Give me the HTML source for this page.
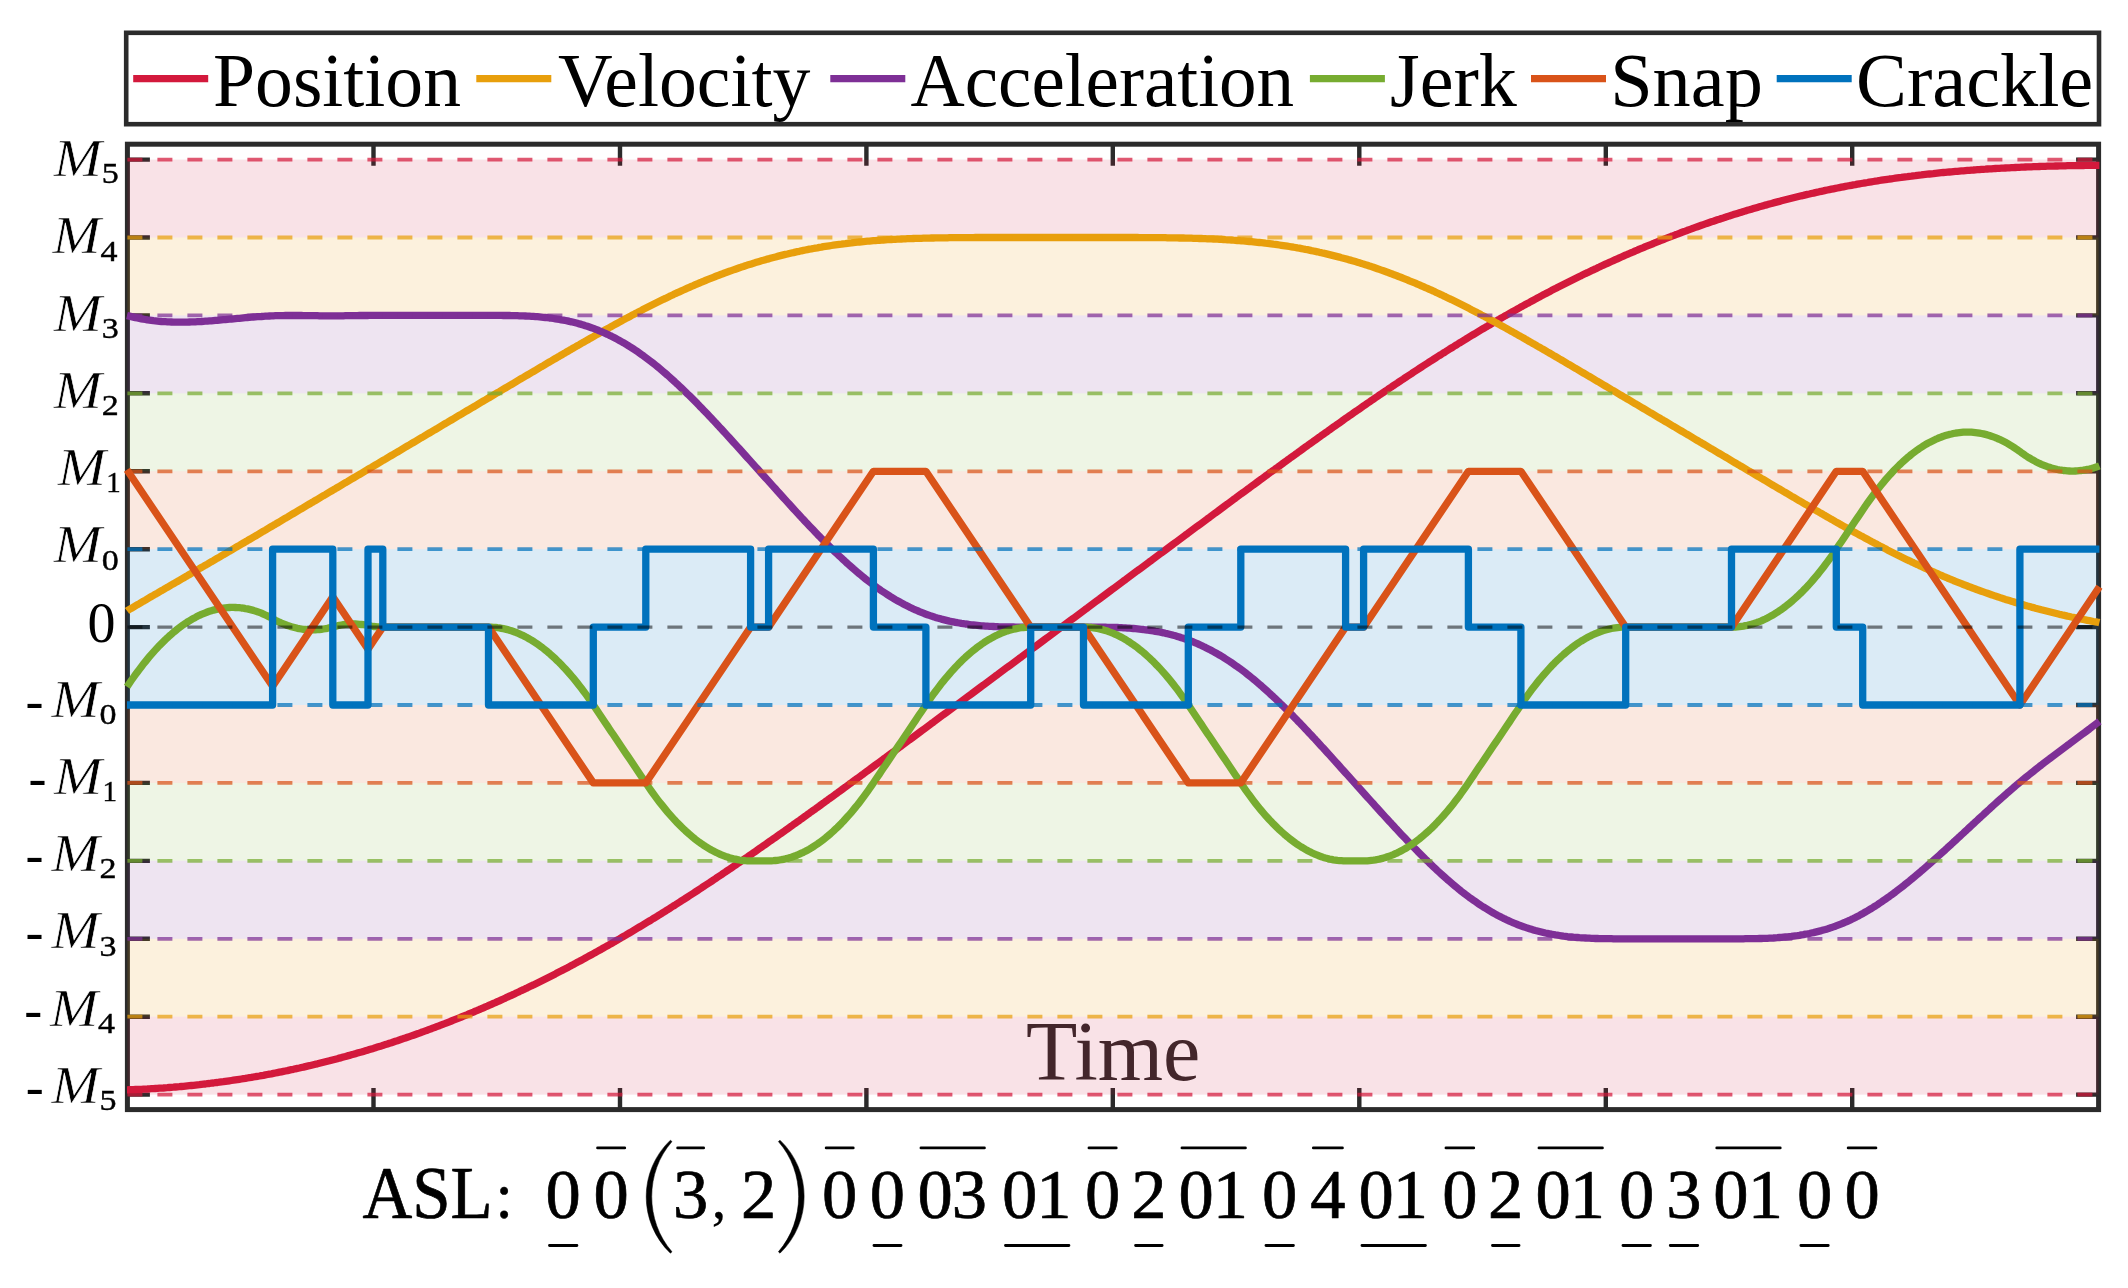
<!DOCTYPE html>
<html lang="en"><head><meta charset="utf-8"><title>Profile</title>
<style>html,body{margin:0;padding:0;background:#fff}svg{display:block;filter:blur(0.55px)}</style>
</head><body>
<svg width="2128" height="1288" viewBox="0 0 2128 1288">
<rect width="2128" height="1288" fill="#fff"/>
<g id="axes" stroke="#2b2b2b" fill="none">
<rect x="127.4" y="144.2" width="1971.2" height="965.4" stroke-width="5"/>
<path d="M373.5 144.2v21.6M373.5 1109.6v-21.6M620.0 144.2v21.6M620.0 1109.6v-21.6M866.4 144.2v21.6M866.4 1109.6v-21.6M1112.8 144.2v21.6M1112.8 1109.6v-21.6M1359.3 144.2v21.6M1359.3 1109.6v-21.6M1605.8 144.2v21.6M1605.8 1109.6v-21.6M1852.2 144.2v21.6M1852.2 1109.6v-21.6M127.4 1094.6h22.5M2098.6 1094.6h-22.5M127.4 1016.7h22.5M2098.6 1016.7h-22.5M127.4 938.8h22.5M2098.6 938.8h-22.5M127.4 860.9h22.5M2098.6 860.9h-22.5M127.4 782.9h22.5M2098.6 782.9h-22.5M127.4 705.0h22.5M2098.6 705.0h-22.5M127.4 627.1h22.5M2098.6 627.1h-22.5M127.4 549.2h22.5M2098.6 549.2h-22.5M127.4 471.3h22.5M2098.6 471.3h-22.5M127.4 393.3h22.5M2098.6 393.3h-22.5M127.4 315.4h22.5M2098.6 315.4h-22.5M127.4 237.5h22.5M2098.6 237.5h-22.5M127.4 159.6h22.5M2098.6 159.6h-22.5" stroke-width="4.4"/>
</g>
<g id="bands" fill-opacity="0.14">
<rect x="127.4" y="159.58" width="1971.2" height="77.92" fill="#D3193C" fill-opacity="0.125"/>
<rect x="127.4" y="1016.70" width="1971.2" height="77.92" fill="#D3193C" fill-opacity="0.125"/>
<rect x="127.4" y="237.50" width="1971.2" height="77.92" fill="#E89F0C" fill-opacity="0.14"/>
<rect x="127.4" y="938.78" width="1971.2" height="77.92" fill="#E89F0C" fill-opacity="0.14"/>
<rect x="127.4" y="315.42" width="1971.2" height="77.92" fill="#7E2F96" fill-opacity="0.13"/>
<rect x="127.4" y="860.86" width="1971.2" height="77.92" fill="#7E2F96" fill-opacity="0.13"/>
<rect x="127.4" y="393.34" width="1971.2" height="77.92" fill="#77AC30" fill-opacity="0.125"/>
<rect x="127.4" y="782.94" width="1971.2" height="77.92" fill="#77AC30" fill-opacity="0.125"/>
<rect x="127.4" y="471.26" width="1971.2" height="77.92" fill="#D95319" fill-opacity="0.135"/>
<rect x="127.4" y="705.02" width="1971.2" height="77.92" fill="#D95319" fill-opacity="0.135"/>
<rect x="127.4" y="549.18" width="1971.2" height="155.84" fill="#0072BD"/>
</g>
<text x="1113.2" y="1079.5" text-anchor="middle" font-family="'Liberation Serif', serif" font-size="84" fill="#43262b" style="will-change:transform">Time</text>
<g id="curves" fill="none" stroke-width="7.3" stroke-linejoin="round" stroke-linecap="butt">
<polyline stroke="#D3193C" points="127.0,1089.8 127.4,1089.8 129.4,1089.7 131.4,1089.7 133.4,1089.6 135.4,1089.5 137.4,1089.4 139.4,1089.3 141.4,1089.3 143.4,1089.2 145.4,1089.1 147.4,1089.0 149.4,1088.8 151.4,1088.7 153.4,1088.6 155.4,1088.5 157.4,1088.4 159.4,1088.2 161.4,1088.1 163.4,1088.0 165.4,1087.8 167.4,1087.7 169.4,1087.5 171.4,1087.3 173.4,1087.2 175.4,1087.0 177.4,1086.8 179.4,1086.7 181.4,1086.5 183.4,1086.3 185.4,1086.1 187.4,1085.9 189.4,1085.7 191.4,1085.5 193.4,1085.3 195.4,1085.1 197.4,1084.9 199.4,1084.7 201.4,1084.4 203.4,1084.2 205.4,1084.0 207.4,1083.7 209.4,1083.5 211.4,1083.2 213.4,1083.0 215.4,1082.7 217.4,1082.5 219.4,1082.2 221.4,1081.9 223.4,1081.7 225.4,1081.4 227.4,1081.1 229.4,1080.8 231.4,1080.5 233.4,1080.2 235.4,1079.9 237.4,1079.6 239.4,1079.3 241.4,1079.0 243.4,1078.7 245.4,1078.4 247.4,1078.0 249.4,1077.7 251.4,1077.4 253.4,1077.0 255.4,1076.7 257.4,1076.3 259.4,1076.0 261.4,1075.6 263.4,1075.3 265.4,1074.9 267.4,1074.5 269.4,1074.1 271.4,1073.8 273.4,1073.4 275.4,1073.0 277.4,1072.6 279.4,1072.2 281.4,1071.8 283.4,1071.4 285.4,1071.0 287.4,1070.6 289.4,1070.1 291.4,1069.7 293.4,1069.3 295.4,1068.8 297.4,1068.4 299.4,1068.0 301.4,1067.5 303.4,1067.1 305.4,1066.6 307.4,1066.1 309.4,1065.7 311.4,1065.2 313.4,1064.7 315.4,1064.2 317.4,1063.8 319.4,1063.3 321.4,1062.8 323.4,1062.3 325.4,1061.8 327.4,1061.3 329.4,1060.8 331.4,1060.2 333.4,1059.7 335.4,1059.2 337.4,1058.7 339.4,1058.1 341.4,1057.6 343.4,1057.0 345.4,1056.5 347.4,1055.9 349.4,1055.4 351.4,1054.8 353.4,1054.3 355.4,1053.7 357.4,1053.1 359.4,1052.5 361.4,1052.0 363.4,1051.4 365.4,1050.8 367.4,1050.2 369.4,1049.6 371.4,1049.0 373.4,1048.4 375.4,1047.7 377.4,1047.1 379.4,1046.5 381.4,1045.9 383.4,1045.2 385.4,1044.6 387.4,1044.0 389.4,1043.3 391.4,1042.7 393.4,1042.0 395.4,1041.3 397.4,1040.7 399.4,1040.0 401.4,1039.3 403.4,1038.6 405.4,1038.0 407.4,1037.3 409.4,1036.6 411.4,1035.9 413.4,1035.2 415.4,1034.5 417.4,1033.8 419.4,1033.1 421.4,1032.3 423.4,1031.6 425.4,1030.9 427.4,1030.2 429.4,1029.4 431.4,1028.7 433.4,1027.9 435.4,1027.2 437.4,1026.4 439.4,1025.7 441.4,1024.9 443.4,1024.1 445.4,1023.4 447.4,1022.6 449.4,1021.8 451.4,1021.0 453.4,1020.2 455.4,1019.4 457.4,1018.6 459.4,1017.8 461.4,1017.0 463.4,1016.2 465.4,1015.4 467.4,1014.6 469.4,1013.7 471.4,1012.9 473.4,1012.1 475.4,1011.2 477.4,1010.4 479.4,1009.5 481.4,1008.7 483.4,1007.8 485.4,1006.9 487.4,1006.1 489.4,1005.2 491.4,1004.3 493.4,1003.4 495.4,1002.6 497.4,1001.7 499.4,1000.8 501.4,999.9 503.4,999.0 505.4,998.1 507.4,997.1 509.4,996.2 511.4,995.3 513.4,994.4 515.4,993.4 517.4,992.5 519.4,991.6 521.4,990.6 523.4,989.7 525.4,988.7 527.4,987.8 529.4,986.8 531.4,985.8 533.4,984.9 535.4,983.9 537.4,982.9 539.4,981.9 541.4,980.9 543.4,979.9 545.4,978.9 547.4,977.9 549.4,976.9 551.4,975.9 553.4,974.9 555.4,973.9 557.4,972.8 559.4,971.8 561.4,970.8 563.4,969.7 565.4,968.7 567.4,967.7 569.4,966.6 571.4,965.5 573.4,964.5 575.4,963.4 577.4,962.3 579.4,961.3 581.4,960.2 583.4,959.1 585.4,958.0 587.4,956.9 589.4,955.8 591.4,954.7 593.4,953.6 595.4,952.5 597.4,951.4 599.4,950.3 601.4,949.2 603.4,948.0 605.4,946.9 607.4,945.8 609.4,944.6 611.4,943.5 613.4,942.3 615.4,941.2 617.4,940.0 619.4,938.9 621.4,937.7 623.4,936.5 625.4,935.4 627.4,934.2 629.4,933.0 631.4,931.8 633.4,930.6 635.4,929.4 637.4,928.2 639.4,927.0 641.4,925.8 643.4,924.6 645.4,923.4 647.4,922.2 649.4,921.0 651.4,919.8 653.4,918.5 655.4,917.3 657.4,916.1 659.4,914.8 661.4,913.6 663.4,912.3 665.4,911.1 667.4,909.8 669.4,908.6 671.4,907.3 673.4,906.0 675.4,904.8 677.4,903.5 679.4,902.2 681.4,900.9 683.4,899.7 685.4,898.4 687.4,897.1 689.4,895.8 691.4,894.5 693.4,893.2 695.4,891.9 697.4,890.6 699.4,889.3 701.4,888.0 703.4,886.6 705.4,885.3 707.4,884.0 709.4,882.7 711.4,881.4 713.4,880.0 715.4,878.7 717.4,877.3 719.4,876.0 721.4,874.7 723.4,873.3 725.4,872.0 727.4,870.6 729.4,869.3 731.4,867.9 733.4,866.5 735.4,865.2 737.4,863.8 739.4,862.5 741.4,861.1 743.4,859.7 745.4,858.3 747.4,857.0 749.4,855.6 751.4,854.2 753.4,852.8 755.4,851.4 757.4,850.0 759.4,848.6 761.4,847.2 763.4,845.8 765.4,844.4 767.4,843.0 769.4,841.6 771.4,840.2 773.4,838.8 775.4,837.4 777.4,836.0 779.4,834.6 781.4,833.2 783.4,831.8 785.4,830.3 787.4,828.9 789.4,827.5 791.4,826.1 793.4,824.6 795.4,823.2 797.4,821.8 799.4,820.4 801.4,818.9 803.4,817.5 805.4,816.1 807.4,814.6 809.4,813.2 811.4,811.7 813.4,810.3 815.4,808.9 817.4,807.4 819.4,806.0 821.4,804.5 823.4,803.1 825.4,801.6 827.4,800.2 829.4,798.7 831.4,797.3 833.4,795.8 835.4,794.3 837.4,792.9 839.4,791.4 841.4,790.0 843.4,788.5 845.4,787.1 847.4,785.6 849.4,784.1 851.4,782.7 853.4,781.2 855.4,779.7 857.4,778.3 859.4,776.8 861.4,775.3 863.4,773.9 865.4,772.4 867.4,770.9 869.4,769.5 871.4,768.0 873.4,766.5 875.4,765.0 877.4,763.6 879.4,762.1 881.4,760.6 883.4,759.1 885.4,757.7 887.4,756.2 889.4,754.7 891.4,753.2 893.4,751.8 895.4,750.3 897.4,748.8 899.4,747.3 901.4,745.9 903.4,744.4 905.4,742.9 907.4,741.4 909.4,739.9 911.4,738.5 913.4,737.0 915.4,735.5 917.4,734.0 919.4,732.5 921.4,731.0 923.4,729.6 925.4,728.1 927.4,726.6 929.4,725.1 931.4,723.6 933.4,722.2 935.4,720.7 937.4,719.2 939.4,717.7 941.4,716.2 943.4,714.7 945.4,713.3 947.4,711.8 949.4,710.3 951.4,708.8 953.4,707.3 955.4,705.8 957.4,704.4 959.4,702.9 961.4,701.4 963.4,699.9 965.4,698.4 967.4,696.9 969.4,695.4 971.4,694.0 973.4,692.5 975.4,691.0 977.4,689.5 979.4,688.0 981.4,686.5 983.4,685.1 985.4,683.6 987.4,682.1 989.4,680.6 991.4,679.1 993.4,677.6 995.4,676.1 997.4,674.7 999.4,673.2 1001.4,671.7 1003.4,670.2 1005.4,668.7 1007.4,667.2 1009.4,665.8 1011.4,664.3 1013.4,662.8 1015.4,661.3 1017.4,659.8 1019.4,658.3 1021.4,656.9 1023.4,655.4 1025.4,653.9 1027.4,652.4 1029.4,650.9 1031.4,649.4 1033.4,647.9 1035.4,646.5 1037.4,645.0 1039.4,643.5 1041.4,642.0 1043.4,640.5 1045.4,639.0 1047.4,637.6 1049.4,636.1 1051.4,634.6 1053.4,633.1 1055.4,631.6 1057.4,630.1 1059.4,628.6 1061.4,627.2 1063.4,625.7 1065.4,624.2 1067.4,622.7 1069.4,621.2 1071.4,619.7 1073.4,618.3 1075.4,616.8 1077.4,615.3 1079.4,613.8 1081.4,612.3 1083.4,610.8 1085.4,609.3 1087.4,607.9 1089.4,606.4 1091.4,604.9 1093.4,603.4 1095.4,601.9 1097.4,600.4 1099.4,599.0 1101.4,597.5 1103.4,596.0 1105.4,594.5 1107.4,593.0 1109.4,591.5 1111.4,590.0 1113.4,588.6 1115.4,587.1 1117.4,585.6 1119.4,584.1 1121.4,582.6 1123.4,581.1 1125.4,579.7 1127.4,578.2 1129.4,576.7 1131.4,575.2 1133.4,573.7 1135.4,572.2 1137.4,570.7 1139.4,569.3 1141.4,567.8 1143.4,566.3 1145.4,564.8 1147.4,563.3 1149.4,561.8 1151.4,560.4 1153.4,558.9 1155.4,557.4 1157.4,555.9 1159.4,554.4 1161.4,552.9 1163.4,551.5 1165.4,550.0 1167.4,548.5 1169.4,547.0 1171.4,545.5 1173.4,544.0 1175.4,542.6 1177.4,541.1 1179.4,539.6 1181.4,538.1 1183.4,536.6 1185.4,535.1 1187.4,533.7 1189.4,532.2 1191.4,530.7 1193.4,529.2 1195.4,527.7 1197.4,526.2 1199.4,524.8 1201.4,523.3 1203.4,521.8 1205.4,520.3 1207.4,518.8 1209.4,517.4 1211.4,515.9 1213.4,514.4 1215.4,512.9 1217.4,511.5 1219.4,510.0 1221.4,508.5 1223.4,507.0 1225.4,505.5 1227.4,504.1 1229.4,502.6 1231.4,501.1 1233.4,499.6 1235.4,498.2 1237.4,496.7 1239.4,495.2 1241.4,493.7 1243.4,492.3 1245.4,490.8 1247.4,489.3 1249.4,487.9 1251.4,486.4 1253.4,484.9 1255.4,483.5 1257.4,482.0 1259.4,480.5 1261.4,479.1 1263.4,477.6 1265.4,476.1 1267.4,474.7 1269.4,473.2 1271.4,471.7 1273.4,470.3 1275.4,468.8 1277.4,467.4 1279.4,465.9 1281.4,464.5 1283.4,463.0 1285.4,461.6 1287.4,460.1 1289.4,458.7 1291.4,457.2 1293.4,455.8 1295.4,454.3 1297.4,452.9 1299.4,451.4 1301.4,450.0 1303.4,448.5 1305.4,447.1 1307.4,445.7 1309.4,444.2 1311.4,442.8 1313.4,441.3 1315.4,439.9 1317.4,438.5 1319.4,437.1 1321.4,435.6 1323.4,434.2 1325.4,432.8 1327.4,431.4 1329.4,429.9 1331.4,428.5 1333.4,427.1 1335.4,425.7 1337.4,424.3 1339.4,422.9 1341.4,421.5 1343.4,420.0 1345.4,418.6 1347.4,417.2 1349.4,415.8 1351.4,414.4 1353.4,413.0 1355.4,411.6 1357.4,410.3 1359.4,408.9 1361.4,407.5 1363.4,406.1 1365.4,404.7 1367.4,403.3 1369.4,402.0 1371.4,400.6 1373.4,399.2 1375.4,397.8 1377.4,396.5 1379.4,395.1 1381.4,393.7 1383.4,392.4 1385.4,391.0 1387.4,389.7 1389.4,388.3 1391.4,387.0 1393.4,385.6 1395.4,384.3 1397.4,383.0 1399.4,381.6 1401.4,380.3 1403.4,379.0 1405.4,377.6 1407.4,376.3 1409.4,375.0 1411.4,373.7 1413.4,372.3 1415.4,371.0 1417.4,369.7 1419.4,368.4 1421.4,367.1 1423.4,365.8 1425.4,364.5 1427.4,363.2 1429.4,361.9 1431.4,360.7 1433.4,359.4 1435.4,358.1 1437.4,356.8 1439.4,355.5 1441.4,354.3 1443.4,353.0 1445.4,351.8 1447.4,350.5 1449.4,349.2 1451.4,348.0 1453.4,346.8 1455.4,345.5 1457.4,344.3 1459.4,343.0 1461.4,341.8 1463.4,340.6 1465.4,339.4 1467.4,338.1 1469.4,336.9 1471.4,335.7 1473.4,334.5 1475.4,333.3 1477.4,332.1 1479.4,330.9 1481.4,329.7 1483.4,328.5 1485.4,327.3 1487.4,326.2 1489.4,325.0 1491.4,323.8 1493.4,322.6 1495.4,321.5 1497.4,320.3 1499.4,319.2 1501.4,318.0 1503.4,316.9 1505.4,315.7 1507.4,314.6 1509.4,313.5 1511.4,312.3 1513.4,311.2 1515.4,310.1 1517.4,309.0 1519.4,307.9 1521.4,306.7 1523.4,305.6 1525.4,304.5 1527.4,303.4 1529.4,302.4 1531.4,301.3 1533.4,300.2 1535.4,299.1 1537.4,298.0 1539.4,297.0 1541.4,295.9 1543.4,294.8 1545.4,293.8 1547.4,292.7 1549.4,291.7 1551.4,290.6 1553.4,289.6 1555.4,288.6 1557.4,287.5 1559.4,286.5 1561.4,285.5 1563.4,284.5 1565.4,283.5 1567.4,282.5 1569.4,281.5 1571.4,280.5 1573.4,279.5 1575.4,278.5 1577.4,277.5 1579.4,276.5 1581.4,275.6 1583.4,274.6 1585.4,273.6 1587.4,272.7 1589.4,271.7 1591.4,270.7 1593.4,269.8 1595.4,268.9 1597.4,267.9 1599.4,267.0 1601.4,266.0 1603.4,265.1 1605.4,264.2 1607.4,263.3 1609.4,262.4 1611.4,261.5 1613.4,260.6 1615.4,259.7 1617.4,258.8 1619.4,257.9 1621.4,257.0 1623.4,256.1 1625.4,255.2 1627.4,254.4 1629.4,253.5 1631.4,252.6 1633.4,251.8 1635.4,250.9 1637.4,250.1 1639.4,249.2 1641.4,248.4 1643.4,247.6 1645.4,246.7 1647.4,245.9 1649.4,245.1 1651.4,244.3 1653.4,243.5 1655.4,242.6 1657.4,241.8 1659.4,241.0 1661.4,240.2 1663.4,239.5 1665.4,238.7 1667.4,237.9 1669.4,237.1 1671.4,236.3 1673.4,235.6 1675.4,234.8 1677.4,234.1 1679.4,233.3 1681.4,232.5 1683.4,231.8 1685.4,231.1 1687.4,230.3 1689.4,229.6 1691.4,228.9 1693.4,228.1 1695.4,227.4 1697.4,226.7 1699.4,226.0 1701.4,225.3 1703.4,224.6 1705.4,223.9 1707.4,223.2 1709.4,222.5 1711.4,221.8 1713.4,221.2 1715.4,220.5 1717.4,219.8 1719.4,219.2 1721.4,218.5 1723.4,217.9 1725.4,217.2 1727.4,216.6 1729.4,215.9 1731.4,215.3 1733.4,214.6 1735.4,214.0 1737.4,213.4 1739.4,212.8 1741.4,212.2 1743.4,211.6 1745.4,210.9 1747.4,210.3 1749.4,209.8 1751.4,209.2 1753.4,208.6 1755.4,208.0 1757.4,207.4 1759.4,206.8 1761.4,206.3 1763.4,205.7 1765.4,205.1 1767.4,204.6 1769.4,204.0 1771.4,203.5 1773.4,202.9 1775.4,202.4 1777.4,201.9 1779.4,201.4 1781.4,200.8 1783.4,200.3 1785.4,199.8 1787.4,199.3 1789.4,198.8 1791.4,198.3 1793.4,197.8 1795.4,197.3 1797.4,196.8 1799.4,196.3 1801.4,195.8 1803.4,195.4 1805.4,194.9 1807.4,194.4 1809.4,194.0 1811.4,193.5 1813.4,193.1 1815.4,192.6 1817.4,192.2 1819.4,191.7 1821.4,191.3 1823.4,190.9 1825.4,190.4 1827.4,190.0 1829.4,189.6 1831.4,189.2 1833.4,188.8 1835.4,188.4 1837.4,188.0 1839.4,187.6 1841.4,187.2 1843.4,186.8 1845.4,186.4 1847.4,186.0 1849.4,185.7 1851.4,185.3 1853.4,184.9 1855.4,184.6 1857.4,184.2 1859.4,183.8 1861.4,183.5 1863.4,183.2 1865.4,182.8 1867.4,182.5 1869.4,182.1 1871.4,181.8 1873.4,181.5 1875.4,181.2 1877.4,180.9 1879.4,180.5 1881.4,180.2 1883.4,179.9 1885.4,179.6 1887.4,179.3 1889.4,179.0 1891.4,178.8 1893.4,178.5 1895.4,178.2 1897.4,177.9 1899.4,177.6 1901.4,177.4 1903.4,177.1 1905.4,176.8 1907.4,176.6 1909.4,176.3 1911.4,176.1 1913.4,175.8 1915.4,175.6 1917.4,175.3 1919.4,175.1 1921.4,174.9 1923.4,174.6 1925.4,174.4 1927.4,174.2 1929.4,174.0 1931.4,173.8 1933.4,173.6 1935.4,173.3 1937.4,173.1 1939.4,172.9 1941.4,172.7 1943.4,172.5 1945.4,172.4 1947.4,172.2 1949.4,172.0 1951.4,171.8 1953.4,171.6 1955.4,171.4 1957.4,171.3 1959.4,171.1 1961.4,170.9 1963.4,170.8 1965.4,170.6 1967.4,170.4 1969.4,170.3 1971.4,170.1 1973.4,170.0 1975.4,169.8 1977.4,169.7 1979.4,169.6 1981.4,169.4 1983.4,169.3 1985.4,169.2 1987.4,169.0 1989.4,168.9 1991.4,168.8 1993.4,168.6 1995.4,168.5 1997.4,168.4 1999.4,168.3 2001.4,168.2 2003.4,168.1 2005.4,168.0 2007.4,167.9 2009.4,167.8 2011.4,167.7 2013.4,167.6 2015.4,167.5 2017.4,167.4 2019.4,167.3 2021.4,167.2 2023.4,167.1 2025.4,167.0 2027.4,166.9 2029.4,166.9 2031.4,166.8 2033.4,166.7 2035.4,166.6 2037.4,166.6 2039.4,166.5 2041.4,166.4 2043.4,166.4 2045.4,166.3 2047.4,166.2 2049.4,166.2 2051.4,166.1 2053.4,166.1 2055.4,166.0 2057.4,166.0 2059.4,165.9 2061.4,165.9 2063.4,165.8 2065.4,165.8 2067.4,165.7 2069.4,165.7 2071.4,165.7 2073.4,165.6 2075.4,165.6 2077.4,165.5 2079.4,165.5 2081.4,165.5 2083.4,165.5 2085.4,165.4 2087.4,165.4 2089.4,165.4 2091.4,165.4 2093.4,165.3 2095.4,165.3 2097.4,165.3 2098.6,165.3 2099.4,165.3"/>
<polyline stroke="#E89F0C" points="127.0,610.9 127.4,610.6 129.4,609.4 131.4,608.3 133.4,607.1 135.4,605.9 137.4,604.7 139.4,603.6 141.4,602.4 143.4,601.2 145.4,600.1 147.4,598.9 149.4,597.7 151.4,596.5 153.4,595.4 155.4,594.2 157.4,593.1 159.4,591.9 161.4,590.7 163.4,589.6 165.4,588.4 167.4,587.3 169.4,586.1 171.4,584.9 173.4,583.8 175.4,582.6 177.4,581.5 179.4,580.3 181.4,579.1 183.4,578.0 185.4,576.8 187.4,575.7 189.4,574.5 191.4,573.3 193.4,572.2 195.4,571.0 197.4,569.9 199.4,568.7 201.4,567.5 203.4,566.4 205.4,565.2 207.4,564.1 209.4,562.9 211.4,561.7 213.4,560.6 215.4,559.4 217.4,558.2 219.4,557.1 221.4,555.9 223.4,554.7 225.4,553.6 227.4,552.4 229.4,551.2 231.4,550.1 233.4,548.9 235.4,547.7 237.4,546.5 239.4,545.4 241.4,544.2 243.4,543.0 245.4,541.8 247.4,540.7 249.4,539.5 251.4,538.3 253.4,537.1 255.4,536.0 257.4,534.8 259.4,533.6 261.4,532.4 263.4,531.2 265.4,530.1 267.4,528.9 269.4,527.7 271.4,526.5 273.4,525.3 275.4,524.2 277.4,523.0 279.4,521.8 281.4,520.6 283.4,519.4 285.4,518.2 287.4,517.1 289.4,515.9 291.4,514.7 293.4,513.5 295.4,512.3 297.4,511.1 299.4,509.9 301.4,508.8 303.4,507.6 305.4,506.4 307.4,505.2 309.4,504.0 311.4,502.8 313.4,501.7 315.4,500.5 317.4,499.3 319.4,498.1 321.4,496.9 323.4,495.7 325.4,494.6 327.4,493.4 329.4,492.2 331.4,491.0 333.4,489.8 335.4,488.7 337.4,487.5 339.4,486.3 341.4,485.1 343.4,483.9 345.4,482.7 347.4,481.6 349.4,480.4 351.4,479.2 353.4,478.0 355.4,476.8 357.4,475.6 359.4,474.5 361.4,473.3 363.4,472.1 365.4,470.9 367.4,469.7 369.4,468.5 371.4,467.4 373.4,466.2 375.4,465.0 377.4,463.8 379.4,462.6 381.4,461.4 383.4,460.2 385.4,459.1 387.4,457.9 389.4,456.7 391.4,455.5 393.4,454.3 395.4,453.1 397.4,452.0 399.4,450.8 401.4,449.6 403.4,448.4 405.4,447.2 407.4,446.0 409.4,444.9 411.4,443.7 413.4,442.5 415.4,441.3 417.4,440.1 419.4,438.9 421.4,437.7 423.4,436.6 425.4,435.4 427.4,434.2 429.4,433.0 431.4,431.8 433.4,430.6 435.4,429.5 437.4,428.3 439.4,427.1 441.4,425.9 443.4,424.7 445.4,423.5 447.4,422.4 449.4,421.2 451.4,420.0 453.4,418.8 455.4,417.6 457.4,416.4 459.4,415.2 461.4,414.1 463.4,412.9 465.4,411.7 467.4,410.5 469.4,409.3 471.4,408.1 473.4,407.0 475.4,405.8 477.4,404.6 479.4,403.4 481.4,402.2 483.4,401.0 485.4,399.9 487.4,398.7 489.4,397.5 491.4,396.3 493.4,395.1 495.4,393.9 497.4,392.7 499.4,391.6 501.4,390.4 503.4,389.2 505.4,388.0 507.4,386.8 509.4,385.6 511.4,384.5 513.4,383.3 515.4,382.1 517.4,380.9 519.4,379.7 521.4,378.5 523.4,377.4 525.4,376.2 527.4,375.0 529.4,373.8 531.4,372.6 533.4,371.5 535.4,370.3 537.4,369.1 539.4,367.9 541.4,366.7 543.4,365.6 545.4,364.4 547.4,363.2 549.4,362.0 551.4,360.9 553.4,359.7 555.4,358.5 557.4,357.3 559.4,356.2 561.4,355.0 563.4,353.8 565.4,352.7 567.4,351.5 569.4,350.3 571.4,349.2 573.4,348.0 575.4,346.9 577.4,345.7 579.4,344.6 581.4,343.4 583.4,342.3 585.4,341.1 587.4,340.0 589.4,338.8 591.4,337.7 593.4,336.6 595.4,335.4 597.4,334.3 599.4,333.2 601.4,332.0 603.4,330.9 605.4,329.8 607.4,328.7 609.4,327.6 611.4,326.5 613.4,325.4 615.4,324.3 617.4,323.2 619.4,322.1 621.4,321.0 623.4,319.9 625.4,318.8 627.4,317.8 629.4,316.7 631.4,315.6 633.4,314.6 635.4,313.5 637.4,312.5 639.4,311.4 641.4,310.4 643.4,309.3 645.4,308.3 647.4,307.3 649.4,306.3 651.4,305.3 653.4,304.3 655.4,303.3 657.4,302.3 659.4,301.3 661.4,300.3 663.4,299.3 665.4,298.4 667.4,297.4 669.4,296.4 671.4,295.5 673.4,294.6 675.4,293.6 677.4,292.7 679.4,291.8 681.4,290.9 683.4,290.0 685.4,289.1 687.4,288.2 689.4,287.3 691.4,286.4 693.4,285.6 695.4,284.7 697.4,283.8 699.4,283.0 701.4,282.2 703.4,281.3 705.4,280.5 707.4,279.7 709.4,278.9 711.4,278.1 713.4,277.3 715.4,276.5 717.4,275.7 719.4,275.0 721.4,274.2 723.4,273.5 725.4,272.7 727.4,272.0 729.4,271.3 731.4,270.6 733.4,269.9 735.4,269.2 737.4,268.5 739.4,267.8 741.4,267.1 743.4,266.5 745.4,265.8 747.4,265.1 749.4,264.5 751.4,263.9 753.4,263.3 755.4,262.6 757.4,262.0 759.4,261.4 761.4,260.8 763.4,260.3 765.4,259.7 767.4,259.1 769.4,258.6 771.4,258.0 773.4,257.5 775.4,257.0 777.4,256.4 779.4,255.9 781.4,255.4 783.4,254.9 785.4,254.4 787.4,254.0 789.4,253.5 791.4,253.0 793.4,252.6 795.4,252.1 797.4,251.7 799.4,251.3 801.4,250.8 803.4,250.4 805.4,250.0 807.4,249.6 809.4,249.2 811.4,248.9 813.4,248.5 815.4,248.1 817.4,247.8 819.4,247.4 821.4,247.1 823.4,246.7 825.4,246.4 827.4,246.1 829.4,245.8 831.4,245.5 833.4,245.2 835.4,244.9 837.4,244.6 839.4,244.3 841.4,244.1 843.4,243.8 845.4,243.6 847.4,243.3 849.4,243.1 851.4,242.9 853.4,242.6 855.4,242.4 857.4,242.2 859.4,242.0 861.4,241.8 863.4,241.6 865.4,241.4 867.4,241.2 869.4,241.1 871.4,240.9 873.4,240.7 875.4,240.6 877.4,240.4 879.4,240.3 881.4,240.1 883.4,240.0 885.4,239.9 887.4,239.7 889.4,239.6 891.4,239.5 893.4,239.4 895.4,239.3 897.4,239.2 899.4,239.1 901.4,239.0 903.4,238.9 905.4,238.8 907.4,238.7 909.4,238.7 911.4,238.6 913.4,238.5 915.4,238.4 917.4,238.4 919.4,238.3 921.4,238.3 923.4,238.2 925.4,238.2 927.4,238.1 929.4,238.1 931.4,238.0 933.4,238.0 935.4,237.9 937.4,237.9 939.4,237.9 941.4,237.8 943.4,237.8 945.4,237.8 947.4,237.8 949.4,237.7 951.4,237.7 953.4,237.7 955.4,237.7 957.4,237.7 959.4,237.6 961.4,237.6 963.4,237.6 965.4,237.6 967.4,237.6 969.4,237.6 971.4,237.6 973.4,237.6 975.4,237.5 977.4,237.5 979.4,237.5 981.4,237.5 983.4,237.5 985.4,237.5 987.4,237.5 989.4,237.5 991.4,237.5 993.4,237.5 995.4,237.5 997.4,237.5 999.4,237.5 1001.4,237.5 1003.4,237.5 1005.4,237.5 1007.4,237.5 1009.4,237.5 1011.4,237.5 1013.4,237.5 1015.4,237.5 1017.4,237.5 1019.4,237.5 1021.4,237.5 1023.4,237.5 1025.4,237.5 1027.4,237.5 1029.4,237.5 1031.4,237.5 1033.4,237.5 1035.4,237.5 1037.4,237.5 1039.4,237.5 1041.4,237.5 1043.4,237.5 1045.4,237.5 1047.4,237.5 1049.4,237.5 1051.4,237.5 1053.4,237.5 1055.4,237.5 1057.4,237.5 1059.4,237.5 1061.4,237.5 1063.4,237.5 1065.4,237.5 1067.4,237.5 1069.4,237.5 1071.4,237.5 1073.4,237.5 1075.4,237.5 1077.4,237.5 1079.4,237.5 1081.4,237.5 1083.4,237.5 1085.4,237.5 1087.4,237.5 1089.4,237.5 1091.4,237.5 1093.4,237.5 1095.4,237.5 1097.4,237.5 1099.4,237.5 1101.4,237.5 1103.4,237.5 1105.4,237.5 1107.4,237.5 1109.4,237.5 1111.4,237.5 1113.4,237.5 1115.4,237.5 1117.4,237.5 1119.4,237.5 1121.4,237.5 1123.4,237.5 1125.4,237.5 1127.4,237.5 1129.4,237.5 1131.4,237.5 1133.4,237.5 1135.4,237.5 1137.4,237.5 1139.4,237.6 1141.4,237.6 1143.4,237.6 1145.4,237.6 1147.4,237.6 1149.4,237.6 1151.4,237.6 1153.4,237.6 1155.4,237.6 1157.4,237.7 1159.4,237.7 1161.4,237.7 1163.4,237.7 1165.4,237.7 1167.4,237.8 1169.4,237.8 1171.4,237.8 1173.4,237.8 1175.4,237.9 1177.4,237.9 1179.4,238.0 1181.4,238.0 1183.4,238.0 1185.4,238.1 1187.4,238.1 1189.4,238.2 1191.4,238.2 1193.4,238.3 1195.4,238.3 1197.4,238.4 1199.4,238.5 1201.4,238.5 1203.4,238.6 1205.4,238.7 1207.4,238.8 1209.4,238.8 1211.4,238.9 1213.4,239.0 1215.4,239.1 1217.4,239.2 1219.4,239.3 1221.4,239.4 1223.4,239.5 1225.4,239.7 1227.4,239.8 1229.4,239.9 1231.4,240.0 1233.4,240.2 1235.4,240.3 1237.4,240.5 1239.4,240.6 1241.4,240.8 1243.4,240.9 1245.4,241.1 1247.4,241.3 1249.4,241.5 1251.4,241.7 1253.4,241.9 1255.4,242.1 1257.4,242.3 1259.4,242.5 1261.4,242.7 1263.4,242.9 1265.4,243.2 1267.4,243.4 1269.4,243.6 1271.4,243.9 1273.4,244.2 1275.4,244.4 1277.4,244.7 1279.4,245.0 1281.4,245.3 1283.4,245.6 1285.4,245.9 1287.4,246.2 1289.4,246.5 1291.4,246.8 1293.4,247.2 1295.4,247.5 1297.4,247.9 1299.4,248.2 1301.4,248.6 1303.4,249.0 1305.4,249.4 1307.4,249.7 1309.4,250.1 1311.4,250.6 1313.4,251.0 1315.4,251.4 1317.4,251.8 1319.4,252.3 1321.4,252.7 1323.4,253.2 1325.4,253.6 1327.4,254.1 1329.4,254.6 1331.4,255.1 1333.4,255.6 1335.4,256.1 1337.4,256.6 1339.4,257.1 1341.4,257.7 1343.4,258.2 1345.4,258.7 1347.4,259.3 1349.4,259.9 1351.4,260.4 1353.4,261.0 1355.4,261.6 1357.4,262.2 1359.4,262.8 1361.4,263.4 1363.4,264.1 1365.4,264.7 1367.4,265.3 1369.4,266.0 1371.4,266.6 1373.4,267.3 1375.4,268.0 1377.4,268.7 1379.4,269.4 1381.4,270.1 1383.4,270.8 1385.4,271.5 1387.4,272.2 1389.4,273.0 1391.4,273.7 1393.4,274.5 1395.4,275.2 1397.4,276.0 1399.4,276.8 1401.4,277.5 1403.4,278.3 1405.4,279.1 1407.4,279.9 1409.4,280.8 1411.4,281.6 1413.4,282.4 1415.4,283.2 1417.4,284.1 1419.4,284.9 1421.4,285.8 1423.4,286.7 1425.4,287.6 1427.4,288.4 1429.4,289.3 1431.4,290.2 1433.4,291.1 1435.4,292.1 1437.4,293.0 1439.4,293.9 1441.4,294.8 1443.4,295.8 1445.4,296.7 1447.4,297.7 1449.4,298.7 1451.4,299.6 1453.4,300.6 1455.4,301.6 1457.4,302.6 1459.4,303.6 1461.4,304.6 1463.4,305.6 1465.4,306.6 1467.4,307.6 1469.4,308.6 1471.4,309.7 1473.4,310.7 1475.4,311.7 1477.4,312.8 1479.4,313.8 1481.4,314.9 1483.4,315.9 1485.4,317.0 1487.4,318.1 1489.4,319.2 1491.4,320.2 1493.4,321.3 1495.4,322.4 1497.4,323.5 1499.4,324.6 1501.4,325.7 1503.4,326.8 1505.4,327.9 1507.4,329.0 1509.4,330.1 1511.4,331.3 1513.4,332.4 1515.4,333.5 1517.4,334.6 1519.4,335.8 1521.4,336.9 1523.4,338.0 1525.4,339.2 1527.4,340.3 1529.4,341.5 1531.4,342.6 1533.4,343.8 1535.4,344.9 1537.4,346.1 1539.4,347.2 1541.4,348.4 1543.4,349.5 1545.4,350.7 1547.4,351.9 1549.4,353.0 1551.4,354.2 1553.4,355.4 1555.4,356.5 1557.4,357.7 1559.4,358.9 1561.4,360.0 1563.4,361.2 1565.4,362.4 1567.4,363.6 1569.4,364.7 1571.4,365.9 1573.4,367.1 1575.4,368.3 1577.4,369.4 1579.4,370.6 1581.4,371.8 1583.4,373.0 1585.4,374.2 1587.4,375.4 1589.4,376.5 1591.4,377.7 1593.4,378.9 1595.4,380.1 1597.4,381.3 1599.4,382.4 1601.4,383.6 1603.4,384.8 1605.4,386.0 1607.4,387.2 1609.4,388.4 1611.4,389.6 1613.4,390.7 1615.4,391.9 1617.4,393.1 1619.4,394.3 1621.4,395.5 1623.4,396.7 1625.4,397.8 1627.4,399.0 1629.4,400.2 1631.4,401.4 1633.4,402.6 1635.4,403.8 1637.4,404.9 1639.4,406.1 1641.4,407.3 1643.4,408.5 1645.4,409.7 1647.4,410.9 1649.4,412.1 1651.4,413.2 1653.4,414.4 1655.4,415.6 1657.4,416.8 1659.4,418.0 1661.4,419.2 1663.4,420.3 1665.4,421.5 1667.4,422.7 1669.4,423.9 1671.4,425.1 1673.4,426.3 1675.4,427.4 1677.4,428.6 1679.4,429.8 1681.4,431.0 1683.4,432.2 1685.4,433.4 1687.4,434.5 1689.4,435.7 1691.4,436.9 1693.4,438.1 1695.4,439.3 1697.4,440.5 1699.4,441.7 1701.4,442.8 1703.4,444.0 1705.4,445.2 1707.4,446.4 1709.4,447.6 1711.4,448.8 1713.4,449.9 1715.4,451.1 1717.4,452.3 1719.4,453.5 1721.4,454.7 1723.4,455.9 1725.4,457.0 1727.4,458.2 1729.4,459.4 1731.4,460.6 1733.4,461.8 1735.4,463.0 1737.4,464.2 1739.4,465.3 1741.4,466.5 1743.4,467.7 1745.4,468.9 1747.4,470.1 1749.4,471.3 1751.4,472.4 1753.4,473.6 1755.4,474.8 1757.4,476.0 1759.4,477.2 1761.4,478.4 1763.4,479.5 1765.4,480.7 1767.4,481.9 1769.4,483.1 1771.4,484.3 1773.4,485.5 1775.4,486.6 1777.4,487.8 1779.4,489.0 1781.4,490.2 1783.4,491.4 1785.4,492.5 1787.4,493.7 1789.4,494.9 1791.4,496.1 1793.4,497.2 1795.4,498.4 1797.4,499.6 1799.4,500.8 1801.4,501.9 1803.4,503.1 1805.4,504.3 1807.4,505.4 1809.4,506.6 1811.4,507.8 1813.4,508.9 1815.4,510.1 1817.4,511.2 1819.4,512.4 1821.4,513.5 1823.4,514.7 1825.4,515.8 1827.4,517.0 1829.4,518.1 1831.4,519.3 1833.4,520.4 1835.4,521.6 1837.4,522.7 1839.4,523.8 1841.4,525.0 1843.4,526.1 1845.4,527.2 1847.4,528.3 1849.4,529.4 1851.4,530.5 1853.4,531.7 1855.4,532.8 1857.4,533.9 1859.4,535.0 1861.4,536.1 1863.4,537.1 1865.4,538.2 1867.4,539.3 1869.4,540.4 1871.4,541.5 1873.4,542.5 1875.4,543.6 1877.4,544.6 1879.4,545.7 1881.4,546.7 1883.4,547.8 1885.4,548.8 1887.4,549.9 1889.4,550.9 1891.4,551.9 1893.4,552.9 1895.4,553.9 1897.4,554.9 1899.4,555.9 1901.4,556.9 1903.4,557.9 1905.4,558.9 1907.4,559.9 1909.4,560.8 1911.4,561.8 1913.4,562.7 1915.4,563.7 1917.4,564.6 1919.4,565.6 1921.4,566.5 1923.4,567.4 1925.4,568.3 1927.4,569.2 1929.4,570.1 1931.4,571.0 1933.4,571.9 1935.4,572.8 1937.4,573.7 1939.4,574.6 1941.4,575.4 1943.4,576.3 1945.4,577.1 1947.4,578.0 1949.4,578.8 1951.4,579.6 1953.4,580.5 1955.4,581.3 1957.4,582.1 1959.4,582.9 1961.4,583.7 1963.4,584.5 1965.4,585.2 1967.4,586.0 1969.4,586.8 1971.4,587.5 1973.4,588.3 1975.4,589.0 1977.4,589.8 1979.4,590.5 1981.4,591.2 1983.4,591.9 1985.4,592.6 1987.4,593.3 1989.4,594.0 1991.4,594.7 1993.4,595.4 1995.4,596.1 1997.4,596.7 1999.4,597.4 2001.4,598.1 2003.4,598.7 2005.4,599.4 2007.4,600.0 2009.4,600.6 2011.4,601.2 2013.4,601.8 2015.4,602.5 2017.4,603.1 2019.4,603.6 2021.4,604.2 2023.4,604.8 2025.4,605.4 2027.4,606.0 2029.4,606.5 2031.4,607.1 2033.4,607.6 2035.4,608.2 2037.4,608.7 2039.4,609.2 2041.4,609.8 2043.4,610.3 2045.4,610.8 2047.4,611.3 2049.4,611.8 2051.4,612.3 2053.4,612.8 2055.4,613.3 2057.4,613.8 2059.4,614.3 2061.4,614.7 2063.4,615.2 2065.4,615.6 2067.4,616.1 2069.4,616.5 2071.4,617.0 2073.4,617.4 2075.4,617.8 2077.4,618.3 2079.4,618.7 2081.4,619.1 2083.4,619.5 2085.4,619.9 2087.4,620.3 2089.4,620.7 2091.4,621.1 2093.4,621.5 2095.4,621.8 2097.4,622.2 2098.6,622.4 2099.4,622.6"/>
<polyline stroke="#7E2F96" points="127.0,315.5 127.4,315.6 129.4,316.1 131.4,316.6 133.4,317.1 135.4,317.6 137.4,318.0 139.4,318.4 141.4,318.8 143.4,319.2 145.4,319.5 147.4,319.9 149.4,320.1 151.4,320.4 153.4,320.7 155.4,320.9 157.4,321.1 159.4,321.3 161.4,321.5 163.4,321.6 165.4,321.7 167.4,321.8 169.4,321.9 171.4,322.0 173.4,322.1 175.4,322.1 177.4,322.1 179.4,322.2 181.4,322.1 183.4,322.1 185.4,322.1 187.4,322.1 189.4,322.0 191.4,321.9 193.4,321.9 195.4,321.8 197.4,321.7 199.4,321.6 201.4,321.5 203.4,321.3 205.4,321.2 207.4,321.1 209.4,320.9 211.4,320.8 213.4,320.6 215.4,320.4 217.4,320.3 219.4,320.1 221.4,319.9 223.4,319.7 225.4,319.6 227.4,319.4 229.4,319.2 231.4,319.0 233.4,318.8 235.4,318.6 237.4,318.4 239.4,318.3 241.4,318.1 243.4,317.9 245.4,317.7 247.4,317.5 249.4,317.4 251.4,317.2 253.4,317.0 255.4,316.9 257.4,316.7 259.4,316.6 261.4,316.5 263.4,316.3 265.4,316.2 267.4,316.1 269.4,316.0 271.4,315.9 273.4,315.8 275.4,315.7 277.4,315.7 279.4,315.6 281.4,315.6 283.4,315.6 285.4,315.5 287.4,315.5 289.4,315.5 291.4,315.5 293.4,315.5 295.4,315.5 297.4,315.5 299.4,315.5 301.4,315.5 303.4,315.6 305.4,315.6 307.4,315.6 309.4,315.6 311.4,315.7 313.4,315.7 315.4,315.7 317.4,315.7 319.4,315.8 321.4,315.8 323.4,315.8 325.4,315.8 327.4,315.8 329.4,315.8 331.4,315.8 333.4,315.8 335.4,315.8 337.4,315.8 339.4,315.8 341.4,315.8 343.4,315.8 345.4,315.7 347.4,315.7 349.4,315.7 351.4,315.7 353.4,315.6 355.4,315.6 357.4,315.6 359.4,315.5 361.4,315.5 363.4,315.5 365.4,315.5 367.4,315.5 369.4,315.4 371.4,315.4 373.4,315.4 375.4,315.4 377.4,315.4 379.4,315.4 381.4,315.4 383.4,315.4 385.4,315.4 387.4,315.4 389.4,315.4 391.4,315.4 393.4,315.4 395.4,315.4 397.4,315.4 399.4,315.4 401.4,315.4 403.4,315.4 405.4,315.4 407.4,315.4 409.4,315.4 411.4,315.4 413.4,315.4 415.4,315.4 417.4,315.4 419.4,315.4 421.4,315.4 423.4,315.4 425.4,315.4 427.4,315.4 429.4,315.4 431.4,315.4 433.4,315.4 435.4,315.4 437.4,315.4 439.4,315.4 441.4,315.4 443.4,315.4 445.4,315.4 447.4,315.4 449.4,315.4 451.4,315.4 453.4,315.4 455.4,315.4 457.4,315.4 459.4,315.4 461.4,315.4 463.4,315.4 465.4,315.4 467.4,315.4 469.4,315.4 471.4,315.4 473.4,315.4 475.4,315.4 477.4,315.4 479.4,315.4 481.4,315.4 483.4,315.4 485.4,315.4 487.4,315.4 489.4,315.4 491.4,315.4 493.4,315.4 495.4,315.4 497.4,315.4 499.4,315.4 501.4,315.4 503.4,315.5 505.4,315.5 507.4,315.5 509.4,315.5 511.4,315.6 513.4,315.6 515.4,315.6 517.4,315.7 519.4,315.8 521.4,315.8 523.4,315.9 525.4,316.0 527.4,316.1 529.4,316.2 531.4,316.3 533.4,316.4 535.4,316.6 537.4,316.7 539.4,316.9 541.4,317.1 543.4,317.3 545.4,317.5 547.4,317.7 549.4,318.0 551.4,318.2 553.4,318.5 555.4,318.8 557.4,319.1 559.4,319.4 561.4,319.8 563.4,320.1 565.4,320.5 567.4,320.9 569.4,321.4 571.4,321.8 573.4,322.3 575.4,322.8 577.4,323.3 579.4,323.9 581.4,324.4 583.4,325.0 585.4,325.7 587.4,326.3 589.4,327.0 591.4,327.7 593.4,328.4 595.4,329.2 597.4,329.9 599.4,330.8 601.4,331.6 603.4,332.5 605.4,333.4 607.4,334.3 609.4,335.3 611.4,336.2 613.4,337.2 615.4,338.3 617.4,339.4 619.4,340.5 621.4,341.6 623.4,342.7 625.4,343.9 627.4,345.1 629.4,346.4 631.4,347.6 633.4,348.9 635.4,350.2 637.4,351.6 639.4,353.0 641.4,354.4 643.4,355.8 645.4,357.3 647.4,358.8 649.4,360.3 651.4,361.8 653.4,363.4 655.4,365.0 657.4,366.6 659.4,368.3 661.4,370.0 663.4,371.7 665.4,373.4 667.4,375.1 669.4,376.9 671.4,378.7 673.4,380.5 675.4,382.4 677.4,384.2 679.4,386.1 681.4,388.0 683.4,389.9 685.4,391.8 687.4,393.8 689.4,395.7 691.4,397.7 693.4,399.7 695.4,401.7 697.4,403.7 699.4,405.8 701.4,407.8 703.4,409.9 705.4,412.0 707.4,414.1 709.4,416.2 711.4,418.3 713.4,420.4 715.4,422.6 717.4,424.7 719.4,426.9 721.4,429.0 723.4,431.2 725.4,433.4 727.4,435.6 729.4,437.8 731.4,440.0 733.4,442.2 735.4,444.4 737.4,446.6 739.4,448.8 741.4,451.0 743.4,453.2 745.4,455.5 747.4,457.7 749.4,459.9 751.4,462.1 753.4,464.4 755.4,466.6 757.4,468.8 759.4,471.0 761.4,473.3 763.4,475.5 765.4,477.7 767.4,479.9 769.4,482.2 771.4,484.4 773.4,486.6 775.4,488.8 777.4,491.1 779.4,493.3 781.4,495.5 783.4,497.7 785.4,499.9 787.4,502.1 789.4,504.3 791.4,506.5 793.4,508.7 795.4,510.9 797.4,513.1 799.4,515.2 801.4,517.4 803.4,519.5 805.4,521.7 807.4,523.8 809.4,525.9 811.4,528.0 813.4,530.1 815.4,532.2 817.4,534.3 819.4,536.3 821.4,538.4 823.4,540.4 825.4,542.4 827.4,544.4 829.4,546.4 831.4,548.4 833.4,550.3 835.4,552.3 837.4,554.2 839.4,556.1 841.4,557.9 843.4,559.8 845.4,561.6 847.4,563.5 849.4,565.2 851.4,567.0 853.4,568.8 855.4,570.5 857.4,572.2 859.4,573.9 861.4,575.5 863.4,577.2 865.4,578.8 867.4,580.4 869.4,581.9 871.4,583.4 873.4,584.9 875.4,586.4 877.4,587.9 879.4,589.3 881.4,590.7 883.4,592.0 885.4,593.3 887.4,594.6 889.4,595.9 891.4,597.2 893.4,598.4 895.4,599.6 897.4,600.7 899.4,601.8 901.4,602.9 903.4,604.0 905.4,605.1 907.4,606.1 909.4,607.1 911.4,608.0 913.4,609.0 915.4,609.9 917.4,610.7 919.4,611.6 921.4,612.4 923.4,613.2 925.4,614.0 927.4,614.7 929.4,615.4 931.4,616.1 933.4,616.7 935.4,617.4 937.4,618.0 939.4,618.5 941.4,619.1 943.4,619.6 945.4,620.1 947.4,620.6 949.4,621.1 951.4,621.5 953.4,621.9 955.4,622.3 957.4,622.7 959.4,623.0 961.4,623.4 963.4,623.7 965.4,624.0 967.4,624.2 969.4,624.5 971.4,624.8 973.4,625.0 975.4,625.2 977.4,625.4 979.4,625.6 981.4,625.8 983.4,625.9 985.4,626.1 987.4,626.2 989.4,626.3 991.4,626.4 993.4,626.5 995.4,626.6 997.4,626.7 999.4,626.8 1001.4,626.8 1003.4,626.9 1005.4,626.9 1007.4,627.0 1009.4,627.0 1011.4,627.0 1013.4,627.0 1015.4,627.1 1017.4,627.1 1019.4,627.1 1021.4,627.1 1023.4,627.1 1025.4,627.1 1027.4,627.1 1029.4,627.1 1031.4,627.1 1033.4,627.1 1035.4,627.1 1037.4,627.1 1039.4,627.1 1041.4,627.1 1043.4,627.1 1045.4,627.1 1047.4,627.1 1049.4,627.1 1051.4,627.1 1053.4,627.1 1055.4,627.1 1057.4,627.1 1059.4,627.1 1061.4,627.1 1063.4,627.1 1065.4,627.1 1067.4,627.1 1069.4,627.1 1071.4,627.1 1073.4,627.1 1075.4,627.1 1077.4,627.1 1079.4,627.1 1081.4,627.1 1083.4,627.1 1085.4,627.1 1087.4,627.1 1089.4,627.1 1091.4,627.1 1093.4,627.1 1095.4,627.1 1097.4,627.1 1099.4,627.1 1101.4,627.2 1103.4,627.2 1105.4,627.2 1107.4,627.3 1109.4,627.3 1111.4,627.3 1113.4,627.4 1115.4,627.5 1117.4,627.5 1119.4,627.6 1121.4,627.7 1123.4,627.8 1125.4,627.9 1127.4,628.1 1129.4,628.2 1131.4,628.3 1133.4,628.5 1135.4,628.7 1137.4,628.9 1139.4,629.1 1141.4,629.3 1143.4,629.5 1145.4,629.8 1147.4,630.0 1149.4,630.3 1151.4,630.6 1153.4,630.9 1155.4,631.3 1157.4,631.6 1159.4,632.0 1161.4,632.4 1163.4,632.8 1165.4,633.3 1167.4,633.7 1169.4,634.2 1171.4,634.7 1173.4,635.3 1175.4,635.8 1177.4,636.4 1179.4,637.0 1181.4,637.7 1183.4,638.3 1185.4,639.0 1187.4,639.7 1189.4,640.5 1191.4,641.2 1193.4,642.0 1195.4,642.9 1197.4,643.7 1199.4,644.6 1201.4,645.5 1203.4,646.5 1205.4,647.4 1207.4,648.4 1209.4,649.4 1211.4,650.5 1213.4,651.6 1215.4,652.7 1217.4,653.8 1219.4,655.0 1221.4,656.2 1223.4,657.4 1225.4,658.7 1227.4,660.0 1229.4,661.3 1231.4,662.6 1233.4,664.0 1235.4,665.4 1237.4,666.8 1239.4,668.2 1241.4,669.7 1243.4,671.2 1245.4,672.7 1247.4,674.3 1249.4,675.9 1251.4,677.5 1253.4,679.1 1255.4,680.8 1257.4,682.5 1259.4,684.2 1261.4,685.9 1263.4,687.7 1265.4,689.5 1267.4,691.3 1269.4,693.1 1271.4,695.0 1273.4,696.8 1275.4,698.7 1277.4,700.6 1279.4,702.5 1281.4,704.5 1283.4,706.4 1285.4,708.4 1287.4,710.4 1289.4,712.4 1291.4,714.4 1293.4,716.4 1295.4,718.5 1297.4,720.6 1299.4,722.6 1301.4,724.7 1303.4,726.8 1305.4,728.9 1307.4,731.0 1309.4,733.2 1311.4,735.3 1313.4,737.5 1315.4,739.6 1317.4,741.8 1319.4,744.0 1321.4,746.2 1323.4,748.3 1325.4,750.5 1327.4,752.7 1329.4,754.9 1331.4,757.2 1333.4,759.4 1335.4,761.6 1337.4,763.8 1339.4,766.0 1341.4,768.3 1343.4,770.5 1345.4,772.7 1347.4,774.9 1349.4,777.2 1351.4,779.4 1353.4,781.6 1355.4,783.8 1357.4,786.1 1359.4,788.3 1361.4,790.5 1363.4,792.7 1365.4,795.0 1367.4,797.2 1369.4,799.4 1371.4,801.6 1373.4,803.8 1375.4,806.1 1377.4,808.3 1379.4,810.5 1381.4,812.7 1383.4,814.9 1385.4,817.1 1387.4,819.3 1389.4,821.5 1391.4,823.6 1393.4,825.8 1395.4,828.0 1397.4,830.1 1399.4,832.3 1401.4,834.4 1403.4,836.5 1405.4,838.6 1407.4,840.7 1409.4,842.8 1411.4,844.9 1413.4,847.0 1415.4,849.0 1417.4,851.1 1419.4,853.1 1421.4,855.1 1423.4,857.1 1425.4,859.1 1427.4,861.0 1429.4,863.0 1431.4,864.9 1433.4,866.8 1435.4,868.7 1437.4,870.6 1439.4,872.4 1441.4,874.2 1443.4,876.0 1445.4,877.8 1447.4,879.6 1449.4,881.3 1451.4,883.0 1453.4,884.7 1455.4,886.4 1457.4,888.0 1459.4,889.7 1461.4,891.3 1463.4,892.8 1465.4,894.4 1467.4,895.9 1469.4,897.4 1471.4,898.8 1473.4,900.2 1475.4,901.6 1477.4,903.0 1479.4,904.4 1481.4,905.7 1483.4,907.0 1485.4,908.2 1487.4,909.4 1489.4,910.6 1491.4,911.8 1493.4,913.0 1495.4,914.1 1497.4,915.2 1499.4,916.2 1501.4,917.3 1503.4,918.3 1505.4,919.2 1507.4,920.2 1509.4,921.1 1511.4,922.0 1513.4,922.9 1515.4,923.7 1517.4,924.5 1519.4,925.3 1521.4,926.0 1523.4,926.7 1525.4,927.4 1527.4,928.1 1529.4,928.7 1531.4,929.3 1533.4,929.9 1535.4,930.5 1537.4,931.0 1539.4,931.5 1541.4,932.0 1543.4,932.5 1545.4,933.0 1547.4,933.4 1549.4,933.8 1551.4,934.2 1553.4,934.5 1555.4,934.9 1557.4,935.2 1559.4,935.5 1561.4,935.8 1563.4,936.1 1565.4,936.3 1567.4,936.6 1569.4,936.8 1571.4,937.0 1573.4,937.2 1575.4,937.3 1577.4,937.5 1579.4,937.7 1581.4,937.8 1583.4,937.9 1585.4,938.0 1587.4,938.1 1589.4,938.2 1591.4,938.3 1593.4,938.4 1595.4,938.5 1597.4,938.5 1599.4,938.6 1601.4,938.6 1603.4,938.7 1605.4,938.7 1607.4,938.7 1609.4,938.7 1611.4,938.7 1613.4,938.8 1615.4,938.8 1617.4,938.8 1619.4,938.8 1621.4,938.8 1623.4,938.8 1625.4,938.8 1627.4,938.8 1629.4,938.8 1631.4,938.8 1633.4,938.8 1635.4,938.8 1637.4,938.8 1639.4,938.8 1641.4,938.8 1643.4,938.8 1645.4,938.8 1647.4,938.8 1649.4,938.8 1651.4,938.8 1653.4,938.8 1655.4,938.8 1657.4,938.8 1659.4,938.8 1661.4,938.8 1663.4,938.8 1665.4,938.8 1667.4,938.8 1669.4,938.8 1671.4,938.8 1673.4,938.8 1675.4,938.8 1677.4,938.8 1679.4,938.8 1681.4,938.8 1683.4,938.8 1685.4,938.8 1687.4,938.8 1689.4,938.8 1691.4,938.8 1693.4,938.8 1695.4,938.8 1697.4,938.8 1699.4,938.8 1701.4,938.8 1703.4,938.8 1705.4,938.8 1707.4,938.8 1709.4,938.8 1711.4,938.8 1713.4,938.8 1715.4,938.8 1717.4,938.8 1719.4,938.8 1721.4,938.8 1723.4,938.8 1725.4,938.8 1727.4,938.8 1729.4,938.8 1731.4,938.8 1733.4,938.8 1735.4,938.8 1737.4,938.8 1739.4,938.8 1741.4,938.8 1743.4,938.8 1745.4,938.7 1747.4,938.7 1749.4,938.7 1751.4,938.7 1753.4,938.7 1755.4,938.6 1757.4,938.6 1759.4,938.5 1761.4,938.5 1763.4,938.4 1765.4,938.3 1767.4,938.3 1769.4,938.2 1771.4,938.1 1773.4,938.0 1775.4,937.8 1777.4,937.7 1779.4,937.5 1781.4,937.4 1783.4,937.2 1785.4,937.0 1787.4,936.8 1789.4,936.6 1791.4,936.4 1793.4,936.1 1795.4,935.8 1797.4,935.6 1799.4,935.3 1801.4,934.9 1803.4,934.6 1805.4,934.2 1807.4,933.9 1809.4,933.5 1811.4,933.0 1813.4,932.6 1815.4,932.1 1817.4,931.6 1819.4,931.1 1821.4,930.6 1823.4,930.0 1825.4,929.5 1827.4,928.9 1829.4,928.2 1831.4,927.6 1833.4,926.9 1835.4,926.2 1837.4,925.4 1839.4,924.6 1841.4,923.8 1843.4,923.0 1845.4,922.2 1847.4,921.3 1849.4,920.4 1851.4,919.4 1853.4,918.5 1855.4,917.5 1857.4,916.4 1859.4,915.4 1861.4,914.3 1863.4,913.2 1865.4,912.0 1867.4,910.9 1869.4,909.7 1871.4,908.5 1873.4,907.2 1875.4,906.0 1877.4,904.7 1879.4,903.3 1881.4,902.0 1883.4,900.6 1885.4,899.2 1887.4,897.8 1889.4,896.4 1891.4,894.9 1893.4,893.5 1895.4,892.0 1897.4,890.4 1899.4,888.9 1901.4,887.4 1903.4,885.8 1905.4,884.2 1907.4,882.6 1909.4,881.0 1911.4,879.3 1913.4,877.7 1915.4,876.0 1917.4,874.3 1919.4,872.7 1921.4,870.9 1923.4,869.2 1925.4,867.5 1927.4,865.8 1929.4,864.0 1931.4,862.2 1933.4,860.5 1935.4,858.7 1937.4,856.9 1939.4,855.1 1941.4,853.3 1943.4,851.5 1945.4,849.7 1947.4,847.8 1949.4,846.0 1951.4,844.2 1953.4,842.3 1955.4,840.5 1957.4,838.6 1959.4,836.8 1961.4,834.9 1963.4,833.1 1965.4,831.2 1967.4,829.4 1969.4,827.5 1971.4,825.6 1973.4,823.8 1975.4,821.9 1977.4,820.1 1979.4,818.2 1981.4,816.4 1983.4,814.6 1985.4,812.7 1987.4,810.9 1989.4,809.1 1991.4,807.2 1993.4,805.4 1995.4,803.6 1997.4,801.8 1999.4,800.0 2001.4,798.2 2003.4,796.5 2005.4,794.7 2007.4,792.9 2009.4,791.2 2011.4,789.5 2013.4,787.8 2015.4,786.0 2017.4,784.3 2019.4,782.7 2021.4,781.0 2023.4,779.3 2025.4,777.7 2027.4,776.1 2029.4,774.5 2031.4,772.9 2033.4,771.3 2035.4,769.7 2037.4,768.1 2039.4,766.5 2041.4,765.0 2043.4,763.4 2045.4,761.9 2047.4,760.4 2049.4,758.9 2051.4,757.3 2053.4,755.8 2055.4,754.3 2057.4,752.8 2059.4,751.3 2061.4,749.8 2063.4,748.3 2065.4,746.8 2067.4,745.3 2069.4,743.9 2071.4,742.4 2073.4,740.9 2075.4,739.4 2077.4,737.9 2079.4,736.4 2081.4,734.9 2083.4,733.4 2085.4,732.0 2087.4,730.5 2089.4,729.0 2091.4,727.4 2093.4,725.9 2095.4,724.4 2097.4,722.9 2098.6,722.0 2099.4,721.4"/>
<polyline stroke="#77AC30" points="127.0,686.8 127.4,686.2 129.4,683.2 131.4,680.3 133.4,677.5 135.4,674.7 137.4,672.0 139.4,669.3 141.4,666.7 143.4,664.1 145.4,661.6 147.4,659.1 149.4,656.7 151.4,654.4 153.4,652.1 155.4,649.9 157.4,647.7 159.4,645.6 161.4,643.6 163.4,641.6 165.4,639.6 167.4,637.8 169.4,635.9 171.4,634.2 173.4,632.4 175.4,630.8 177.4,629.2 179.4,627.7 181.4,626.2 183.4,624.7 185.4,623.4 187.4,622.0 189.4,620.8 191.4,619.6 193.4,618.4 195.4,617.4 197.4,616.3 199.4,615.3 201.4,614.4 203.4,613.6 205.4,612.8 207.4,612.0 209.4,611.3 211.4,610.7 213.4,610.1 215.4,609.6 217.4,609.1 219.4,608.7 221.4,608.4 223.4,608.1 225.4,607.8 227.4,607.6 229.4,607.5 231.4,607.4 233.4,607.4 235.4,607.5 237.4,607.6 239.4,607.7 241.4,608.0 243.4,608.2 245.4,608.6 247.4,608.9 249.4,609.4 251.4,609.9 253.4,610.4 255.4,611.1 257.4,611.7 259.4,612.4 261.4,613.2 263.4,614.1 265.4,615.0 267.4,615.9 269.4,616.9 271.4,618.0 273.4,619.1 275.4,620.2 277.4,621.2 279.4,622.2 281.4,623.1 283.4,623.9 285.4,624.7 287.4,625.5 289.4,626.1 291.4,626.8 293.4,627.3 295.4,627.8 297.4,628.3 299.4,628.7 301.4,629.0 303.4,629.3 305.4,629.5 307.4,629.7 309.4,629.8 311.4,629.9 313.4,629.9 315.4,629.8 317.4,629.7 319.4,629.5 321.4,629.3 323.4,629.0 325.4,628.7 327.4,628.3 329.4,627.8 331.4,627.3 333.4,626.8 335.4,626.2 337.4,625.8 339.4,625.3 341.4,625.0 343.4,624.7 345.4,624.4 347.4,624.2 349.4,624.1 351.4,624.0 353.4,624.0 355.4,624.0 357.4,624.1 359.4,624.3 361.4,624.5 363.4,624.7 365.4,625.0 367.4,625.4 369.4,625.8 371.4,626.2 373.4,626.5 375.4,626.7 377.4,626.9 379.4,627.0 381.4,627.1 383.4,627.1 385.4,627.1 387.4,627.1 389.4,627.1 391.4,627.1 393.4,627.1 395.4,627.1 397.4,627.1 399.4,627.1 401.4,627.1 403.4,627.1 405.4,627.1 407.4,627.1 409.4,627.1 411.4,627.1 413.4,627.1 415.4,627.1 417.4,627.1 419.4,627.1 421.4,627.1 423.4,627.1 425.4,627.1 427.4,627.1 429.4,627.1 431.4,627.1 433.4,627.1 435.4,627.1 437.4,627.1 439.4,627.1 441.4,627.1 443.4,627.1 445.4,627.1 447.4,627.1 449.4,627.1 451.4,627.1 453.4,627.1 455.4,627.1 457.4,627.1 459.4,627.1 461.4,627.1 463.4,627.1 465.4,627.1 467.4,627.1 469.4,627.1 471.4,627.1 473.4,627.1 475.4,627.1 477.4,627.1 479.4,627.1 481.4,627.1 483.4,627.1 485.4,627.1 487.4,627.1 489.4,627.1 491.4,627.2 493.4,627.3 495.4,627.4 497.4,627.7 499.4,627.9 501.4,628.3 503.4,628.7 505.4,629.1 507.4,629.6 509.4,630.2 511.4,630.8 513.4,631.5 515.4,632.2 517.4,633.0 519.4,633.9 521.4,634.8 523.4,635.7 525.4,636.8 527.4,637.8 529.4,639.0 531.4,640.1 533.4,641.4 535.4,642.7 537.4,644.1 539.4,645.5 541.4,646.9 543.4,648.5 545.4,650.1 547.4,651.7 549.4,653.4 551.4,655.2 553.4,657.0 555.4,658.8 557.4,660.8 559.4,662.7 561.4,664.8 563.4,666.9 565.4,669.0 567.4,671.2 569.4,673.5 571.4,675.8 573.4,678.2 575.4,680.6 577.4,683.1 579.4,685.7 581.4,688.3 583.4,691.0 585.4,693.7 587.4,696.4 589.4,699.3 591.4,702.2 593.4,705.1 595.4,708.1 597.4,711.1 599.4,714.0 601.4,717.0 603.4,720.0 605.4,723.0 607.4,725.9 609.4,728.9 611.4,731.9 613.4,734.8 615.4,737.8 617.4,740.8 619.4,743.8 621.4,746.7 623.4,749.7 625.4,752.7 627.4,755.6 629.4,758.6 631.4,761.6 633.4,764.6 635.4,767.5 637.4,770.5 639.4,773.5 641.4,776.5 643.4,779.4 645.4,782.4 647.4,785.3 649.4,788.2 651.4,791.1 653.4,793.9 655.4,796.6 657.4,799.3 659.4,801.9 661.4,804.4 663.4,806.9 665.4,809.4 667.4,811.8 669.4,814.1 671.4,816.4 673.4,818.6 675.4,820.8 677.4,822.9 679.4,824.9 681.4,826.9 683.4,828.8 685.4,830.7 687.4,832.5 689.4,834.3 691.4,836.0 693.4,837.7 695.4,839.3 697.4,840.8 699.4,842.3 701.4,843.7 703.4,845.1 705.4,846.4 707.4,847.6 709.4,848.8 711.4,850.0 713.4,851.0 715.4,852.1 717.4,853.0 719.4,854.0 721.4,854.8 723.4,855.6 725.4,856.4 727.4,857.0 729.4,857.7 731.4,858.2 733.4,858.8 735.4,859.2 737.4,859.6 739.4,860.0 741.4,860.3 743.4,860.5 745.4,860.7 747.4,860.8 749.4,860.8 751.4,860.9 753.4,860.9 755.4,860.9 757.4,860.9 759.4,860.9 761.4,860.9 763.4,860.9 765.4,860.9 767.4,860.9 769.4,860.9 771.4,860.8 773.4,860.7 775.4,860.5 777.4,860.3 779.4,860.0 781.4,859.7 783.4,859.3 785.4,858.9 787.4,858.4 789.4,857.8 791.4,857.2 793.4,856.5 795.4,855.8 797.4,855.0 799.4,854.1 801.4,853.2 803.4,852.3 805.4,851.3 807.4,850.2 809.4,849.1 811.4,847.9 813.4,846.6 815.4,845.3 817.4,844.0 819.4,842.6 821.4,841.1 823.4,839.6 825.4,838.0 827.4,836.3 829.4,834.7 831.4,832.9 833.4,831.1 835.4,829.2 837.4,827.3 839.4,825.3 841.4,823.3 843.4,821.2 845.4,819.0 847.4,816.8 849.4,814.6 851.4,812.3 853.4,809.9 855.4,807.4 857.4,805.0 859.4,802.4 861.4,799.8 863.4,797.1 865.4,794.4 867.4,791.7 869.4,788.8 871.4,785.9 873.4,783.0 875.4,780.0 877.4,777.0 879.4,774.1 881.4,771.1 883.4,768.1 885.4,765.2 887.4,762.2 889.4,759.2 891.4,756.2 893.4,753.3 895.4,750.3 897.4,747.3 899.4,744.4 901.4,741.4 903.4,738.4 905.4,735.4 907.4,732.5 909.4,729.5 911.4,726.5 913.4,723.5 915.4,720.6 917.4,717.6 919.4,714.6 921.4,711.7 923.4,708.7 925.4,705.7 927.4,702.8 929.4,699.9 931.4,697.0 933.4,694.2 935.4,691.5 937.4,688.8 939.4,686.2 941.4,683.6 943.4,681.1 945.4,678.7 947.4,676.3 949.4,674.0 951.4,671.7 953.4,669.5 955.4,667.3 957.4,665.2 959.4,663.1 961.4,661.1 963.4,659.2 965.4,657.3 967.4,655.5 969.4,653.7 971.4,652.0 973.4,650.4 975.4,648.8 977.4,647.2 979.4,645.8 981.4,644.3 983.4,643.0 985.4,641.6 987.4,640.4 989.4,639.2 991.4,638.1 993.4,637.0 995.4,635.9 997.4,635.0 999.4,634.0 1001.4,633.2 1003.4,632.4 1005.4,631.6 1007.4,630.9 1009.4,630.3 1011.4,629.7 1013.4,629.2 1015.4,628.8 1017.4,628.4 1019.4,628.0 1021.4,627.7 1023.4,627.5 1025.4,627.3 1027.4,627.2 1029.4,627.1 1031.4,627.1 1033.4,627.1 1035.4,627.1 1037.4,627.1 1039.4,627.1 1041.4,627.1 1043.4,627.1 1045.4,627.1 1047.4,627.1 1049.4,627.1 1051.4,627.1 1053.4,627.1 1055.4,627.1 1057.4,627.1 1059.4,627.1 1061.4,627.1 1063.4,627.1 1065.4,627.1 1067.4,627.1 1069.4,627.1 1071.4,627.1 1073.4,627.1 1075.4,627.1 1077.4,627.1 1079.4,627.1 1081.4,627.1 1083.4,627.1 1085.4,627.1 1087.4,627.2 1089.4,627.3 1091.4,627.5 1093.4,627.8 1095.4,628.1 1097.4,628.5 1099.4,628.9 1101.4,629.4 1103.4,629.9 1105.4,630.5 1107.4,631.1 1109.4,631.9 1111.4,632.6 1113.4,633.4 1115.4,634.3 1117.4,635.2 1119.4,636.2 1121.4,637.3 1123.4,638.4 1125.4,639.5 1127.4,640.8 1129.4,642.0 1131.4,643.4 1133.4,644.8 1135.4,646.2 1137.4,647.7 1139.4,649.3 1141.4,650.9 1143.4,652.5 1145.4,654.3 1147.4,656.1 1149.4,657.9 1151.4,659.8 1153.4,661.7 1155.4,663.8 1157.4,665.8 1159.4,667.9 1161.4,670.1 1163.4,672.4 1165.4,674.7 1167.4,677.0 1169.4,679.4 1171.4,681.9 1173.4,684.4 1175.4,687.0 1177.4,689.6 1179.4,692.3 1181.4,695.1 1183.4,697.9 1185.4,700.7 1187.4,703.6 1189.4,706.6 1191.4,709.6 1193.4,712.5 1195.4,715.5 1197.4,718.5 1199.4,721.5 1201.4,724.4 1203.4,727.4 1205.4,730.4 1207.4,733.4 1209.4,736.3 1211.4,739.3 1213.4,742.3 1215.4,745.2 1217.4,748.2 1219.4,751.2 1221.4,754.2 1223.4,757.1 1225.4,760.1 1227.4,763.1 1229.4,766.0 1231.4,769.0 1233.4,772.0 1235.4,775.0 1237.4,777.9 1239.4,780.9 1241.4,783.9 1243.4,786.8 1245.4,789.7 1247.4,792.5 1249.4,795.2 1251.4,797.9 1253.4,800.6 1255.4,803.2 1257.4,805.7 1259.4,808.2 1261.4,810.6 1263.4,813.0 1265.4,815.3 1267.4,817.5 1269.4,819.7 1271.4,821.8 1273.4,823.9 1275.4,825.9 1277.4,827.9 1279.4,829.8 1281.4,831.6 1283.4,833.4 1285.4,835.2 1287.4,836.8 1289.4,838.5 1291.4,840.0 1293.4,841.5 1295.4,843.0 1297.4,844.4 1299.4,845.7 1301.4,847.0 1303.4,848.2 1305.4,849.4 1307.4,850.5 1309.4,851.6 1311.4,852.6 1313.4,853.5 1315.4,854.4 1317.4,855.2 1319.4,856.0 1321.4,856.7 1323.4,857.4 1325.4,858.0 1327.4,858.5 1329.4,859.0 1331.4,859.4 1333.4,859.8 1335.4,860.1 1337.4,860.4 1339.4,860.6 1341.4,860.7 1343.4,860.8 1345.4,860.9 1347.4,860.9 1349.4,860.9 1351.4,860.9 1353.4,860.9 1355.4,860.9 1357.4,860.9 1359.4,860.9 1361.4,860.9 1363.4,860.9 1365.4,860.8 1367.4,860.8 1369.4,860.6 1371.4,860.4 1373.4,860.2 1375.4,859.9 1377.4,859.5 1379.4,859.1 1381.4,858.6 1383.4,858.1 1385.4,857.5 1387.4,856.8 1389.4,856.1 1391.4,855.4 1393.4,854.6 1395.4,853.7 1397.4,852.8 1399.4,851.8 1401.4,850.7 1403.4,849.6 1405.4,848.5 1407.4,847.3 1409.4,846.0 1411.4,844.7 1413.4,843.3 1415.4,841.8 1417.4,840.3 1419.4,838.8 1421.4,837.2 1423.4,835.5 1425.4,833.8 1427.4,832.0 1429.4,830.2 1431.4,828.3 1433.4,826.3 1435.4,824.3 1437.4,822.2 1439.4,820.1 1441.4,817.9 1443.4,815.7 1445.4,813.4 1447.4,811.1 1449.4,808.7 1451.4,806.2 1453.4,803.7 1455.4,801.1 1457.4,798.5 1459.4,795.8 1461.4,793.0 1463.4,790.2 1465.4,787.4 1467.4,784.5 1469.4,781.5 1471.4,778.5 1473.4,775.6 1475.4,772.6 1477.4,769.6 1479.4,766.6 1481.4,763.7 1483.4,760.7 1485.4,757.7 1487.4,754.8 1489.4,751.8 1491.4,748.8 1493.4,745.8 1495.4,742.9 1497.4,739.9 1499.4,736.9 1501.4,733.9 1503.4,731.0 1505.4,728.0 1507.4,725.0 1509.4,722.1 1511.4,719.1 1513.4,716.1 1515.4,713.1 1517.4,710.2 1519.4,707.2 1521.4,704.2 1523.4,701.3 1525.4,698.4 1527.4,695.6 1529.4,692.9 1531.4,690.1 1533.4,687.5 1535.4,684.9 1537.4,682.4 1539.4,679.9 1541.4,677.5 1543.4,675.1 1545.4,672.8 1547.4,670.6 1549.4,668.4 1551.4,666.2 1553.4,664.2 1555.4,662.1 1557.4,660.2 1559.4,658.3 1561.4,656.4 1563.4,654.6 1565.4,652.9 1567.4,651.2 1569.4,649.6 1571.4,648.0 1573.4,646.5 1575.4,645.0 1577.4,643.6 1579.4,642.3 1581.4,641.0 1583.4,639.8 1585.4,638.6 1587.4,637.5 1589.4,636.4 1591.4,635.4 1593.4,634.5 1595.4,633.6 1597.4,632.8 1599.4,632.0 1601.4,631.3 1603.4,630.6 1605.4,630.0 1607.4,629.5 1609.4,629.0 1611.4,628.5 1613.4,628.2 1615.4,627.9 1617.4,627.6 1619.4,627.4 1621.4,627.2 1623.4,627.1 1625.4,627.1 1627.4,627.1 1629.4,627.1 1631.4,627.1 1633.4,627.1 1635.4,627.1 1637.4,627.1 1639.4,627.1 1641.4,627.1 1643.4,627.1 1645.4,627.1 1647.4,627.1 1649.4,627.1 1651.4,627.1 1653.4,627.1 1655.4,627.1 1657.4,627.1 1659.4,627.1 1661.4,627.1 1663.4,627.1 1665.4,627.1 1667.4,627.1 1669.4,627.1 1671.4,627.1 1673.4,627.1 1675.4,627.1 1677.4,627.1 1679.4,627.1 1681.4,627.1 1683.4,627.1 1685.4,627.1 1687.4,627.1 1689.4,627.1 1691.4,627.1 1693.4,627.1 1695.4,627.1 1697.4,627.1 1699.4,627.1 1701.4,627.1 1703.4,627.1 1705.4,627.1 1707.4,627.1 1709.4,627.1 1711.4,627.1 1713.4,627.1 1715.4,627.1 1717.4,627.1 1719.4,627.1 1721.4,627.1 1723.4,627.1 1725.4,627.1 1727.4,627.1 1729.4,627.1 1731.4,627.1 1733.4,627.1 1735.4,627.0 1737.4,626.9 1739.4,626.7 1741.4,626.4 1743.4,626.1 1745.4,625.7 1747.4,625.3 1749.4,624.8 1751.4,624.3 1753.4,623.7 1755.4,623.1 1757.4,622.3 1759.4,621.6 1761.4,620.8 1763.4,619.9 1765.4,619.0 1767.4,618.0 1769.4,616.9 1771.4,615.8 1773.4,614.7 1775.4,613.4 1777.4,612.2 1779.4,610.8 1781.4,609.4 1783.4,608.0 1785.4,606.5 1787.4,604.9 1789.4,603.3 1791.4,601.7 1793.4,599.9 1795.4,598.1 1797.4,596.3 1799.4,594.4 1801.4,592.5 1803.4,590.4 1805.4,588.4 1807.4,586.3 1809.4,584.1 1811.4,581.8 1813.4,579.5 1815.4,577.2 1817.4,574.8 1819.4,572.3 1821.4,569.8 1823.4,567.2 1825.4,564.6 1827.4,561.9 1829.4,559.1 1831.4,556.3 1833.4,553.5 1835.4,550.6 1837.4,547.6 1839.4,544.6 1841.4,541.7 1843.4,538.7 1845.4,535.7 1847.4,532.7 1849.4,529.8 1851.4,526.8 1853.4,523.8 1855.4,520.8 1857.4,517.9 1859.4,514.9 1861.4,511.9 1863.4,509.0 1865.4,506.0 1867.4,503.2 1869.4,500.4 1871.4,497.6 1873.4,494.9 1875.4,492.3 1877.4,489.7 1879.4,487.2 1881.4,484.7 1883.4,482.3 1885.4,479.9 1887.4,477.6 1889.4,475.4 1891.4,473.2 1893.4,471.1 1895.4,469.0 1897.4,467.0 1899.4,465.0 1901.4,463.1 1903.4,461.3 1905.4,459.5 1907.4,457.7 1909.4,456.1 1911.4,454.4 1913.4,452.9 1915.4,451.4 1917.4,449.9 1919.4,448.5 1921.4,447.2 1923.4,445.9 1925.4,444.7 1927.4,443.5 1929.4,442.4 1931.4,441.4 1933.4,440.4 1935.4,439.4 1937.4,438.6 1939.4,437.7 1941.4,437.0 1943.4,436.2 1945.4,435.6 1947.4,435.0 1949.4,434.4 1951.4,434.0 1953.4,433.5 1955.4,433.2 1957.4,432.8 1959.4,432.6 1961.4,432.4 1963.4,432.2 1965.4,432.2 1967.4,432.1 1969.4,432.2 1971.4,432.2 1973.4,432.4 1975.4,432.6 1977.4,432.8 1979.4,433.1 1981.4,433.5 1983.4,433.9 1985.4,434.4 1987.4,434.9 1989.4,435.5 1991.4,436.2 1993.4,436.9 1995.4,437.6 1997.4,438.5 1999.4,439.3 2001.4,440.3 2003.4,441.3 2005.4,442.3 2007.4,443.4 2009.4,444.6 2011.4,445.8 2013.4,447.1 2015.4,448.4 2017.4,449.8 2019.4,451.2 2021.4,452.7 2023.4,454.1 2025.4,455.5 2027.4,456.8 2029.4,458.0 2031.4,459.2 2033.4,460.3 2035.4,461.4 2037.4,462.4 2039.4,463.4 2041.4,464.3 2043.4,465.1 2045.4,465.9 2047.4,466.7 2049.4,467.3 2051.4,468.0 2053.4,468.5 2055.4,469.0 2057.4,469.5 2059.4,469.9 2061.4,470.2 2063.4,470.5 2065.4,470.7 2067.4,470.9 2069.4,471.0 2071.4,471.1 2073.4,471.1 2075.4,471.0 2077.4,470.9 2079.4,470.7 2081.4,470.5 2083.4,470.2 2085.4,469.8 2087.4,469.4 2089.4,469.0 2091.4,468.5 2093.4,467.9 2095.4,467.3 2097.4,466.6 2098.6,466.2 2099.4,465.9"/>
<polyline stroke="#D95319" points="127.0,469.8 127.4,470.4 272.6,686.3 332.8,596.8 368.0,649.1 382.8,627.1 488.5,627.1 593.3,782.9 645.8,782.9 750.6,627.1 768.6,627.1 873.4,471.3 925.9,471.3 1030.7,627.1 1083.5,627.1 1188.3,782.9 1240.8,782.9 1345.6,627.1 1363.6,627.1 1468.4,471.3 1520.9,471.3 1625.7,627.1 1731.5,627.1 1836.3,471.3 1862.7,471.3 2019.9,705.0 2098.6,588.0 2099.4,586.8"/>
<path stroke="#0072BD" d="M127.0 705.0H272.6V549.2H332.8V705.0H368.0V549.2H382.8V627.1H488.5V705.0H593.3V627.1H645.8V549.2H750.6V627.1H768.6V549.2H873.4V627.1H925.9V705.0H1030.7V627.1H1083.5V705.0H1188.3V627.1H1240.8V549.2H1345.6V627.1H1363.6V549.2H1468.4V627.1H1520.9V705.0H1625.7V627.1H1731.5V549.2H1836.3V627.1H1862.7V705.0H2019.9V549.2H2099.4"/>
</g>
<g id="dash" fill="none" stroke-width="3.8" stroke-dasharray="15 15" stroke-opacity="0.72">
<path d="M127.4 549.2H2098.6" stroke="#0072BD"/>
<path d="M127.4 705.0H2098.6" stroke="#0072BD"/>
<path d="M127.4 471.3H2098.6" stroke="#D95319"/>
<path d="M127.4 782.9H2098.6" stroke="#D95319"/>
<path d="M127.4 393.3H2098.6" stroke="#77AC30"/>
<path d="M127.4 860.9H2098.6" stroke="#77AC30"/>
<path d="M127.4 315.4H2098.6" stroke="#7E2F96"/>
<path d="M127.4 938.8H2098.6" stroke="#7E2F96"/>
<path d="M127.4 237.5H2098.6" stroke="#E89F0C"/>
<path d="M127.4 1016.7H2098.6" stroke="#E89F0C"/>
<path d="M127.4 159.6H2098.6" stroke="#D3193C"/>
<path d="M127.4 1094.6H2098.6" stroke="#D3193C"/>
<path d="M127.4 627.1H2098.6" stroke="#000" stroke-opacity="0.5" stroke-width="3.4"/>
</g>
<g id="ylab" font-family="'Liberation Serif', serif" fill="#000" style="will-change:transform">
<text x="51.5" y="1102.8" font-size="53.6" font-style="italic" textLength="48.2" lengthAdjust="spacingAndGlyphs" stroke="#fff" stroke-width="0.6">M</text>
<text x="99.5" y="1110.1" font-size="29" textLength="17.0" lengthAdjust="spacingAndGlyphs" stroke="#000" stroke-width="0.4">5</text>
<text x="25.7" y="1104.7" font-size="54">-</text>
<text x="49.9" y="1025.5" font-size="53.6" font-style="italic" textLength="48.2" lengthAdjust="spacingAndGlyphs" stroke="#fff" stroke-width="0.6">M</text>
<text x="97.9" y="1032.8" font-size="29" textLength="17.0" lengthAdjust="spacingAndGlyphs" stroke="#000" stroke-width="0.4">4</text>
<text x="24.3" y="1027.5" font-size="54">-</text>
<text x="51.5" y="948.3" font-size="53.6" font-style="italic" textLength="48.2" lengthAdjust="spacingAndGlyphs" stroke="#fff" stroke-width="0.6">M</text>
<text x="99.5" y="955.6" font-size="29" textLength="17.0" lengthAdjust="spacingAndGlyphs" stroke="#000" stroke-width="0.4">3</text>
<text x="25.5" y="950.2" font-size="54">-</text>
<text x="51.5" y="871.1" font-size="53.6" font-style="italic" textLength="48.2" lengthAdjust="spacingAndGlyphs" stroke="#fff" stroke-width="0.6">M</text>
<text x="99.5" y="878.4" font-size="29" textLength="17.0" lengthAdjust="spacingAndGlyphs" stroke="#000" stroke-width="0.4">2</text>
<text x="25.5" y="873.0" font-size="54">-</text>
<text x="54.0" y="793.9" font-size="53.6" font-style="italic" textLength="48.2" lengthAdjust="spacingAndGlyphs" stroke="#fff" stroke-width="0.6">M</text>
<text x="102.6" y="801.2" font-size="29" textLength="14.5" lengthAdjust="spacingAndGlyphs" stroke="#000" stroke-width="0.4">1</text>
<text x="28.5" y="795.8" font-size="54">-</text>
<text x="51.5" y="716.6" font-size="53.6" font-style="italic" textLength="48.2" lengthAdjust="spacingAndGlyphs" stroke="#fff" stroke-width="0.6">M</text>
<text x="99.5" y="723.9" font-size="29" textLength="17.0" lengthAdjust="spacingAndGlyphs" stroke="#000" stroke-width="0.4">0</text>
<text x="25.5" y="718.5" font-size="54">-</text>
<text x="87.6" y="641.7" font-size="56">0</text>
<text x="53.8" y="562.2" font-size="53.6" font-style="italic" textLength="48.2" lengthAdjust="spacingAndGlyphs" stroke="#fff" stroke-width="0.6">M</text>
<text x="101.8" y="569.5" font-size="29" textLength="17.0" lengthAdjust="spacingAndGlyphs" stroke="#000" stroke-width="0.4">0</text>
<text x="57.7" y="484.9" font-size="53.6" font-style="italic" textLength="48.2" lengthAdjust="spacingAndGlyphs" stroke="#fff" stroke-width="0.6">M</text>
<text x="106.3" y="492.2" font-size="29" textLength="14.5" lengthAdjust="spacingAndGlyphs" stroke="#000" stroke-width="0.4">1</text>
<text x="53.8" y="407.7" font-size="53.6" font-style="italic" textLength="48.2" lengthAdjust="spacingAndGlyphs" stroke="#fff" stroke-width="0.6">M</text>
<text x="101.8" y="415.0" font-size="29" textLength="17.0" lengthAdjust="spacingAndGlyphs" stroke="#000" stroke-width="0.4">2</text>
<text x="53.8" y="330.5" font-size="53.6" font-style="italic" textLength="48.2" lengthAdjust="spacingAndGlyphs" stroke="#fff" stroke-width="0.6">M</text>
<text x="101.8" y="337.8" font-size="29" textLength="17.0" lengthAdjust="spacingAndGlyphs" stroke="#000" stroke-width="0.4">3</text>
<text x="52.6" y="253.2" font-size="53.6" font-style="italic" textLength="48.2" lengthAdjust="spacingAndGlyphs" stroke="#fff" stroke-width="0.6">M</text>
<text x="100.6" y="260.6" font-size="29" textLength="17.0" lengthAdjust="spacingAndGlyphs" stroke="#000" stroke-width="0.4">4</text>
<text x="53.8" y="176.0" font-size="53.6" font-style="italic" textLength="48.2" lengthAdjust="spacingAndGlyphs" stroke="#fff" stroke-width="0.6">M</text>
<text x="101.8" y="183.3" font-size="29" textLength="17.0" lengthAdjust="spacingAndGlyphs" stroke="#000" stroke-width="0.4">5</text>
</g>
<rect x="126.2" y="32.8" width="1972.8" height="91.4" fill="#fff" stroke="#2b2b2b" stroke-width="4.6"/>
<g id="legend" font-family="'Liberation Serif', serif" font-size="75.5" fill="#000" style="will-change:transform">
<path d="M133.2 78.6h75" stroke="#D3193C" stroke-width="7.3" fill="none"/>
<text x="213.0" y="105.5" textLength="248.0" lengthAdjust="spacingAndGlyphs">Position</text>
<path d="M476.3 78.6h75" stroke="#E89F0C" stroke-width="7.3" fill="none"/>
<text x="558" y="105.5" textLength="252.4" lengthAdjust="spacingAndGlyphs">Velocity</text>
<path d="M830.3 78.6h75" stroke="#7E2F96" stroke-width="7.3" fill="none"/>
<text x="910.5" y="105.5" textLength="383.6" lengthAdjust="spacingAndGlyphs">Acceleration</text>
<path d="M1309.9 78.6h75" stroke="#77AC30" stroke-width="7.3" fill="none"/>
<text x="1390" y="105.5" textLength="126.9" lengthAdjust="spacingAndGlyphs">Jerk</text>
<path d="M1531.0 78.6h75" stroke="#D95319" stroke-width="7.3" fill="none"/>
<text x="1610.2" y="105.5" textLength="152.6" lengthAdjust="spacingAndGlyphs">Snap</text>
<path d="M1776.7 78.6h75" stroke="#0072BD" stroke-width="7.3" fill="none"/>
<text x="1856.0" y="105.5" textLength="237.2" lengthAdjust="spacingAndGlyphs">Crackle</text>
</g>
<g id="asl" font-family="'Liberation Serif', serif" font-size="70.5" fill="#000" stroke="#000" stroke-width="0.7" stroke-linejoin="round" style="will-change:transform">
<text x="362.4" y="1218.4" font-size="75" textLength="130.2" lengthAdjust="spacingAndGlyphs">ASL</text>
<text x="495.1" y="1217.7" font-size="66" stroke-width="0.3">:</text>
<text x="563.1" y="1218.4" text-anchor="middle">0</text>
<text x="611.0" y="1218.4" text-anchor="middle">0</text>
<text x="690.5" y="1218.4" text-anchor="middle">3</text>
<text x="711.8" y="1218.4" font-size="58" stroke-width="0.3">,</text>
<text x="758.6" y="1218.4" text-anchor="middle">2</text>
<text x="839.6" y="1218.4" text-anchor="middle">0</text>
<text x="887.4" y="1218.4" text-anchor="middle">0</text>
<text x="917.4" y="1218.4" letter-spacing="-0.8">03</text>
<text x="1001.9" y="1218.4" letter-spacing="-0.8">01</text>
<text x="1102.5" y="1218.4" text-anchor="middle">0</text>
<text x="1148.8" y="1218.4" text-anchor="middle">2</text>
<text x="1178.4" y="1218.4" letter-spacing="-0.8">01</text>
<text x="1279.6" y="1218.4" text-anchor="middle">0</text>
<text x="1327.8" y="1218.4" text-anchor="middle">4</text>
<text x="1358.4" y="1218.4" letter-spacing="-0.8">01</text>
<text x="1459.8" y="1218.4" text-anchor="middle">0</text>
<text x="1505.7" y="1218.4" text-anchor="middle">2</text>
<text x="1535.4" y="1218.4" letter-spacing="-0.8">01</text>
<text x="1636.6" y="1218.4" text-anchor="middle">0</text>
<text x="1683.9" y="1218.4" text-anchor="middle">3</text>
<text x="1713.2" y="1218.4" letter-spacing="-0.8">01</text>
<text x="1814.5" y="1218.4" text-anchor="middle">0</text>
<text x="1862.0" y="1218.4" text-anchor="middle">0</text>
<path d="M549.5 1245.5H576.9M597.6 1147.9H624.7M677.7 1147.9H703.6M826.2 1147.9H853.2M874.0 1245.5H901.0M921.0 1147.9H984.4M1005.5 1245.5H1068.9M1089.0 1147.9H1116.2M1135.6 1245.5H1162.1M1182.0 1147.9H1245.4M1266.0 1245.5H1293.4M1313.4 1147.9H1342.4M1362.0 1245.5H1425.4M1446.0 1147.9H1473.7M1492.5 1245.5H1519.0M1539.0 1147.9H1602.4M1623.0 1245.5H1650.4M1670.3 1245.5H1697.7M1716.8 1147.9H1780.2M1800.9 1245.5H1828.2M1848.2 1147.9H1875.9" stroke="#000" stroke-width="2.9" stroke-linecap="round" fill="none"/>
<path d="M670.4 1140.2C638.2 1171 638.2 1222 670.4 1253.2L672.0 1251.8C645.0 1221 645.0 1172 672.0 1141.6ZM780.0 1140.2C812.2 1171 812.2 1222 780.0 1253.2L778.4 1251.8C805.4 1221 805.4 1172 778.4 1141.6Z" stroke="#000" stroke-width="0.5"/>
</g>
</svg>
</body></html>
